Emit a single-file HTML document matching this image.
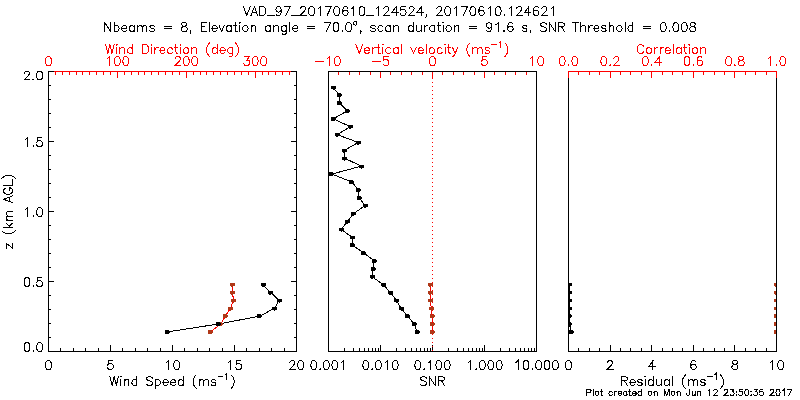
<!DOCTYPE html>
<html><head><meta charset="utf-8"><title>VAD</title>
<style>html,body{margin:0;padding:0;background:#fff;font-family:"Liberation Sans",sans-serif;}svg{display:block}</style>
</head><body>
<svg width="800" height="400" viewBox="0 0 800 400" shape-rendering="crispEdges" stroke-linecap="square" stroke-linejoin="miter">
<defs><clipPath id="c3"><rect x="568" y="71" width="209" height="281"/></clipPath></defs>
<rect x="0" y="0" width="800" height="400" fill="#ffffff"/>
<path transform="translate(400.00 15.50)" d="M-156.56 -8.83 L-153.20 0.00M-149.84 -8.83 L-153.20 0.00M-145.63 -8.83 L-149.00 0.00M-145.63 -8.83 L-142.27 0.00M-147.74 -2.94 L-143.53 -2.94M-140.17 -8.83 L-140.17 0.00M-140.17 -8.83 L-137.23 -8.83 L-135.97 -8.41 L-135.13 -7.57 L-134.71 -6.72 L-134.29 -5.46 L-134.29 -3.36 L-134.71 -2.10 L-135.13 -1.26 L-135.97 -0.42 L-137.23 0.00 L-140.17 0.00M-132.60 0.00 L-125.88 0.00M-118.73 -5.88 L-119.16 -4.62 L-120.00 -3.78 L-121.26 -3.36 L-121.68 -3.36 L-122.94 -3.78 L-123.78 -4.62 L-124.20 -5.88 L-124.20 -6.30 L-123.78 -7.57 L-122.94 -8.41 L-121.68 -8.83 L-121.26 -8.83 L-120.00 -8.41 L-119.16 -7.57 L-118.73 -5.88 L-118.73 -3.78 L-119.16 -1.68 L-120.00 -0.42 L-121.26 0.00 L-122.10 0.00 L-123.36 -0.42 L-123.78 -1.26M-109.91 -8.83 L-114.11 0.00M-115.79 -8.83 L-109.91 -8.83M-108.23 0.00 L-101.50 0.00M-99.40 -6.72 L-99.40 -7.15 L-98.98 -7.99 L-98.56 -8.41 L-97.72 -8.83 L-96.04 -8.83 L-95.20 -8.41 L-94.78 -7.99 L-94.36 -7.15 L-94.36 -6.30 L-94.78 -5.46 L-95.62 -4.20 L-99.82 0.00 L-93.94 0.00M-88.89 -8.83 L-90.15 -8.41 L-90.99 -7.15 L-91.42 -5.04 L-91.42 -3.78 L-90.99 -1.68 L-90.15 -0.42 L-88.89 0.00 L-88.05 0.00 L-86.79 -0.42 L-85.95 -1.68 L-85.53 -3.78 L-85.53 -5.04 L-85.95 -7.15 L-86.79 -8.41 L-88.05 -8.83 L-88.89 -8.83M-81.75 -7.15 L-80.91 -7.57 L-79.65 -8.83 L-79.65 0.00M-68.72 -8.83 L-72.92 0.00M-74.60 -8.83 L-68.72 -8.83M-63.68 -8.83 L-64.94 -8.41 L-65.78 -7.15 L-66.20 -5.04 L-66.20 -3.78 L-65.78 -1.68 L-64.94 -0.42 L-63.68 0.00 L-62.83 0.00 L-61.57 -0.42 L-60.73 -1.68 L-60.31 -3.78 L-60.31 -5.04 L-60.73 -7.15 L-61.57 -8.41 L-62.83 -8.83 L-63.68 -8.83M-52.33 -7.57 L-52.75 -8.41 L-54.01 -8.83 L-54.85 -8.83 L-56.11 -8.41 L-56.95 -7.15 L-57.37 -5.04 L-57.37 -2.94 L-56.95 -1.26 L-56.11 -0.42 L-54.85 0.00 L-54.43 0.00 L-53.17 -0.42 L-52.33 -1.26 L-51.91 -2.52 L-51.91 -2.94 L-52.33 -4.20 L-53.17 -5.04 L-54.43 -5.46 L-54.85 -5.46 L-56.11 -5.04 L-56.95 -4.20 L-57.37 -2.94M-48.12 -7.15 L-47.28 -7.57 L-46.02 -8.83 L-46.02 0.00M-38.46 -8.83 L-39.72 -8.41 L-40.56 -7.15 L-40.98 -5.04 L-40.98 -3.78 L-40.56 -1.68 L-39.72 -0.42 L-38.46 0.00 L-37.62 0.00 L-36.36 -0.42 L-35.52 -1.68 L-35.10 -3.78 L-35.10 -5.04 L-35.52 -7.15 L-36.36 -8.41 L-37.62 -8.83 L-38.46 -8.83M-33.41 0.00 L-26.69 0.00M-23.75 -7.15 L-22.91 -7.57 L-21.65 -8.83 L-21.65 0.00M-16.18 -6.72 L-16.18 -7.15 L-15.76 -7.99 L-15.34 -8.41 L-14.50 -8.83 L-12.82 -8.83 L-11.98 -8.41 L-11.56 -7.99 L-11.14 -7.15 L-11.14 -6.30 L-11.56 -5.46 L-12.40 -4.20 L-16.60 0.00 L-10.72 0.00M-3.99 -8.83 L-8.20 -2.94 L-1.89 -2.94M-3.99 -8.83 L-3.99 0.00M5.25 -8.83 L1.05 -8.83 L0.63 -5.04 L1.05 -5.46 L2.31 -5.88 L3.57 -5.88 L4.83 -5.46 L5.67 -4.62 L6.09 -3.36 L6.09 -2.52 L5.67 -1.26 L4.83 -0.42 L3.57 0.00 L2.31 0.00 L1.05 -0.42 L0.63 -0.84 L0.21 -1.68M9.04 -6.72 L9.04 -7.15 L9.46 -7.99 L9.88 -8.41 L10.72 -8.83 L12.40 -8.83 L13.24 -8.41 L13.66 -7.99 L14.08 -7.15 L14.08 -6.30 L13.66 -5.46 L12.82 -4.20 L8.62 0.00 L14.50 0.00M21.23 -8.83 L17.02 -2.94 L23.33 -2.94M21.23 -8.83 L21.23 0.00M26.69 -0.42 L26.27 0.00 L25.85 -0.42 L26.27 -0.84 L26.69 -0.42 L26.69 0.42 L26.27 1.26 L25.85 1.68M36.78 -6.72 L36.78 -7.15 L37.20 -7.99 L37.62 -8.41 L38.46 -8.83 L40.14 -8.83 L40.98 -8.41 L41.40 -7.99 L41.82 -7.15 L41.82 -6.30 L41.40 -5.46 L40.56 -4.20 L36.36 0.00 L42.24 0.00M47.28 -8.83 L46.02 -8.41 L45.18 -7.15 L44.76 -5.04 L44.76 -3.78 L45.18 -1.68 L46.02 -0.42 L47.28 0.00 L48.12 0.00 L49.39 -0.42 L50.23 -1.68 L50.65 -3.78 L50.65 -5.04 L50.23 -7.15 L49.39 -8.41 L48.12 -8.83 L47.28 -8.83M54.43 -7.15 L55.27 -7.57 L56.53 -8.83 L56.53 0.00M67.46 -8.83 L63.26 0.00M61.57 -8.83 L67.46 -8.83M72.50 -8.83 L71.24 -8.41 L70.40 -7.15 L69.98 -5.04 L69.98 -3.78 L70.40 -1.68 L71.24 -0.42 L72.50 0.00 L73.34 0.00 L74.60 -0.42 L75.44 -1.68 L75.86 -3.78 L75.86 -5.04 L75.44 -7.15 L74.60 -8.41 L73.34 -8.83 L72.50 -8.83M83.85 -7.57 L83.43 -8.41 L82.17 -8.83 L81.33 -8.83 L80.07 -8.41 L79.23 -7.15 L78.81 -5.04 L78.81 -2.94 L79.23 -1.26 L80.07 -0.42 L81.33 0.00 L81.75 0.00 L83.01 -0.42 L83.85 -1.26 L84.27 -2.52 L84.27 -2.94 L83.85 -4.20 L83.01 -5.04 L81.75 -5.46 L81.33 -5.46 L80.07 -5.04 L79.23 -4.20 L78.81 -2.94M88.05 -7.15 L88.89 -7.57 L90.15 -8.83 L90.15 0.00M97.72 -8.83 L96.46 -8.41 L95.62 -7.15 L95.20 -5.04 L95.20 -3.78 L95.62 -1.68 L96.46 -0.42 L97.72 0.00 L98.56 0.00 L99.82 -0.42 L100.66 -1.68 L101.08 -3.78 L101.08 -5.04 L100.66 -7.15 L99.82 -8.41 L98.56 -8.83 L97.72 -8.83M104.44 -0.84 L104.02 -0.42 L104.44 0.00 L104.86 -0.42 L104.44 -0.84M109.07 -7.15 L109.91 -7.57 L111.17 -8.83 L111.17 0.00M116.63 -6.72 L116.63 -7.15 L117.05 -7.99 L117.47 -8.41 L118.31 -8.83 L120.00 -8.83 L120.84 -8.41 L121.26 -7.99 L121.68 -7.15 L121.68 -6.30 L121.26 -5.46 L120.42 -4.20 L116.21 0.00 L122.10 0.00M128.82 -8.83 L124.62 -2.94 L130.92 -2.94M128.82 -8.83 L128.82 0.00M138.49 -7.57 L138.07 -8.41 L136.81 -8.83 L135.97 -8.83 L134.71 -8.41 L133.87 -7.15 L133.45 -5.04 L133.45 -2.94 L133.87 -1.26 L134.71 -0.42 L135.97 0.00 L136.39 0.00 L137.65 -0.42 L138.49 -1.26 L138.91 -2.52 L138.91 -2.94 L138.49 -4.20 L137.65 -5.04 L136.39 -5.46 L135.97 -5.46 L134.71 -5.04 L133.87 -4.20 L133.45 -2.94M141.85 -6.72 L141.85 -7.15 L142.27 -7.99 L142.69 -8.41 L143.53 -8.83 L145.21 -8.83 L146.05 -8.41 L146.47 -7.99 L146.89 -7.15 L146.89 -6.30 L146.47 -5.46 L145.63 -4.20 L141.43 0.00 L147.32 0.00M151.10 -7.15 L151.94 -7.57 L153.20 -8.83 L153.20 0.00" stroke="#000000" stroke-width="1" fill="none"/>
<path transform="translate(400.00 31.50)" d="M-295.19 -8.83 L-295.19 0.00M-295.19 -8.83 L-289.31 0.00M-289.31 -8.83 L-289.31 0.00M-285.95 -8.83 L-285.95 0.00M-285.95 -4.62 L-285.11 -5.46 L-284.27 -5.88 L-283.01 -5.88 L-282.16 -5.46 L-281.32 -4.62 L-280.90 -3.36 L-280.90 -2.52 L-281.32 -1.26 L-282.16 -0.42 L-283.01 0.00 L-284.27 0.00 L-285.11 -0.42 L-285.95 -1.26M-278.38 -3.36 L-273.34 -3.36 L-273.34 -4.20 L-273.76 -5.04 L-274.18 -5.46 L-275.02 -5.88 L-276.28 -5.88 L-277.12 -5.46 L-277.96 -4.62 L-278.38 -3.36 L-278.38 -2.52 L-277.96 -1.26 L-277.12 -0.42 L-276.28 0.00 L-275.02 0.00 L-274.18 -0.42 L-273.34 -1.26M-265.77 -5.88 L-265.77 0.00M-265.77 -4.62 L-266.61 -5.46 L-267.45 -5.88 L-268.72 -5.88 L-269.56 -5.46 L-270.40 -4.62 L-270.82 -3.36 L-270.82 -2.52 L-270.40 -1.26 L-269.56 -0.42 L-268.72 0.00 L-267.45 0.00 L-266.61 -0.42 L-265.77 -1.26M-262.41 -5.88 L-262.41 0.00M-262.41 -4.20 L-261.15 -5.46 L-260.31 -5.88 L-259.05 -5.88 L-258.21 -5.46 L-257.79 -4.20 L-257.79 0.00M-257.79 -4.20 L-256.53 -5.46 L-255.69 -5.88 L-254.43 -5.88 L-253.58 -5.46 L-253.16 -4.20 L-253.16 0.00M-245.60 -4.62 L-246.02 -5.46 L-247.28 -5.88 L-248.54 -5.88 L-249.80 -5.46 L-250.22 -4.62 L-249.80 -3.78 L-248.96 -3.36 L-246.86 -2.94 L-246.02 -2.52 L-245.60 -1.68 L-245.60 -1.26 L-246.02 -0.42 L-247.28 0.00 L-248.54 0.00 L-249.80 -0.42 L-250.22 -1.26M-235.93 -5.04 L-228.37 -5.04M-235.93 -2.52 L-228.37 -2.52M-216.60 -8.83 L-217.86 -8.41 L-218.28 -7.57 L-218.28 -6.72 L-217.86 -5.88 L-217.02 -5.46 L-215.34 -5.04 L-214.08 -4.62 L-213.24 -3.78 L-212.82 -2.94 L-212.82 -1.68 L-213.24 -0.84 L-213.66 -0.42 L-214.92 0.00 L-216.60 0.00 L-217.86 -0.42 L-218.28 -0.84 L-218.70 -1.68 L-218.70 -2.94 L-218.28 -3.78 L-217.44 -4.62 L-216.18 -5.04 L-214.50 -5.46 L-213.66 -5.88 L-213.24 -6.72 L-213.24 -7.57 L-213.66 -8.41 L-214.92 -8.83 L-216.60 -8.83M-209.03 -0.42 L-209.45 0.00 L-209.87 -0.42 L-209.45 -0.84 L-209.03 -0.42 L-209.03 0.42 L-209.45 1.26 L-209.87 1.68M-198.95 -8.83 L-198.95 0.00M-198.95 -8.83 L-193.48 -8.83M-198.95 -4.62 L-195.58 -4.62M-198.95 0.00 L-193.48 0.00M-190.96 -8.83 L-190.96 0.00M-188.02 -3.36 L-182.97 -3.36 L-182.97 -4.20 L-183.39 -5.04 L-183.81 -5.46 L-184.66 -5.88 L-185.92 -5.88 L-186.76 -5.46 L-187.60 -4.62 L-188.02 -3.36 L-188.02 -2.52 L-187.60 -1.26 L-186.76 -0.42 L-185.92 0.00 L-184.66 0.00 L-183.81 -0.42 L-182.97 -1.26M-180.87 -5.88 L-178.35 0.00M-175.83 -5.88 L-178.35 0.00M-168.68 -5.88 L-168.68 0.00M-168.68 -4.62 L-169.52 -5.46 L-170.37 -5.88 L-171.63 -5.88 L-172.47 -5.46 L-173.31 -4.62 L-173.73 -3.36 L-173.73 -2.52 L-173.31 -1.26 L-172.47 -0.42 L-171.63 0.00 L-170.37 0.00 L-169.52 -0.42 L-168.68 -1.26M-164.90 -8.83 L-164.90 -1.68 L-164.48 -0.42 L-163.64 0.00 L-162.80 0.00M-166.16 -5.88 L-163.22 -5.88M-160.70 -8.83 L-160.28 -8.41 L-159.86 -8.83 L-160.28 -9.25 L-160.70 -8.83M-160.28 -5.88 L-160.28 0.00M-155.23 -5.88 L-156.07 -5.46 L-156.92 -4.62 L-157.34 -3.36 L-157.34 -2.52 L-156.92 -1.26 L-156.07 -0.42 L-155.23 0.00 L-153.97 0.00 L-153.13 -0.42 L-152.29 -1.26 L-151.87 -2.52 L-151.87 -3.36 L-152.29 -4.62 L-153.13 -5.46 L-153.97 -5.88 L-155.23 -5.88M-148.93 -5.88 L-148.93 0.00M-148.93 -4.20 L-147.67 -5.46 L-146.83 -5.88 L-145.57 -5.88 L-144.73 -5.46 L-144.31 -4.20 L-144.31 0.00M-129.60 -5.88 L-129.60 0.00M-129.60 -4.62 L-130.44 -5.46 L-131.28 -5.88 L-132.54 -5.88 L-133.38 -5.46 L-134.22 -4.62 L-134.64 -3.36 L-134.64 -2.52 L-134.22 -1.26 L-133.38 -0.42 L-132.54 0.00 L-131.28 0.00 L-130.44 -0.42 L-129.60 -1.26M-126.23 -5.88 L-126.23 0.00M-126.23 -4.20 L-124.97 -5.46 L-124.13 -5.88 L-122.87 -5.88 L-122.03 -5.46 L-121.61 -4.20 L-121.61 0.00M-113.62 -5.88 L-113.62 0.84 L-114.04 2.10 L-114.47 2.52 L-115.31 2.94 L-116.57 2.94 L-117.41 2.52M-113.62 -4.62 L-114.47 -5.46 L-115.31 -5.88 L-116.57 -5.88 L-117.41 -5.46 L-118.25 -4.62 L-118.67 -3.36 L-118.67 -2.52 L-118.25 -1.26 L-117.41 -0.42 L-116.57 0.00 L-115.31 0.00 L-114.47 -0.42 L-113.62 -1.26M-110.26 -8.83 L-110.26 0.00M-107.32 -3.36 L-102.28 -3.36 L-102.28 -4.20 L-102.70 -5.04 L-103.12 -5.46 L-103.96 -5.88 L-105.22 -5.88 L-106.06 -5.46 L-106.90 -4.62 L-107.32 -3.36 L-107.32 -2.52 L-106.90 -1.26 L-106.06 -0.42 L-105.22 0.00 L-103.96 0.00 L-103.12 -0.42 L-102.28 -1.26M-92.61 -5.04 L-85.04 -5.04M-92.61 -2.52 L-85.04 -2.52M-69.49 -8.83 L-73.70 0.00M-75.38 -8.83 L-69.49 -8.83M-64.45 -8.83 L-65.71 -8.41 L-66.55 -7.15 L-66.97 -5.04 L-66.97 -3.78 L-66.55 -1.68 L-65.71 -0.42 L-64.45 0.00 L-63.61 0.00 L-62.35 -0.42 L-61.51 -1.68 L-61.09 -3.78 L-61.09 -5.04 L-61.51 -7.15 L-62.35 -8.41 L-63.61 -8.83 L-64.45 -8.83M-57.72 -0.84 L-58.15 -0.42 L-57.72 0.00 L-57.30 -0.42 L-57.72 -0.84M-51.84 -8.83 L-53.10 -8.41 L-53.94 -7.15 L-54.36 -5.04 L-54.36 -3.78 L-53.94 -1.68 L-53.10 -0.42 L-51.84 0.00 L-51.00 0.00 L-49.74 -0.42 L-48.90 -1.68 L-48.48 -3.78 L-48.48 -5.04 L-48.90 -7.15 L-49.74 -8.41 L-51.00 -8.83 L-51.84 -8.83M-45.13 -10.08 L-45.65 -9.82 L-46.17 -9.30 L-46.44 -8.52 L-46.44 -7.99 L-46.17 -7.21 L-45.65 -6.69 L-45.13 -6.43 L-44.35 -6.43 L-43.83 -6.69 L-43.31 -7.21 L-43.05 -7.99 L-43.05 -8.52 L-43.31 -9.30 L-43.83 -9.82 L-44.35 -10.08 L-45.13 -10.08M-38.94 -0.42 L-39.36 0.00 L-39.78 -0.42 L-39.36 -0.84 L-38.94 -0.42 L-38.94 0.42 L-39.36 1.26 L-39.78 1.68M-24.65 -4.62 L-25.07 -5.46 L-26.34 -5.88 L-27.60 -5.88 L-28.86 -5.46 L-29.28 -4.62 L-28.86 -3.78 L-28.02 -3.36 L-25.91 -2.94 L-25.07 -2.52 L-24.65 -1.68 L-24.65 -1.26 L-25.07 -0.42 L-26.34 0.00 L-27.60 0.00 L-28.86 -0.42 L-29.28 -1.26M-17.09 -4.62 L-17.93 -5.46 L-18.77 -5.88 L-20.03 -5.88 L-20.87 -5.46 L-21.71 -4.62 L-22.13 -3.36 L-22.13 -2.52 L-21.71 -1.26 L-20.87 -0.42 L-20.03 0.00 L-18.77 0.00 L-17.93 -0.42 L-17.09 -1.26M-9.52 -5.88 L-9.52 0.00M-9.52 -4.62 L-10.36 -5.46 L-11.20 -5.88 L-12.47 -5.88 L-13.31 -5.46 L-14.15 -4.62 L-14.57 -3.36 L-14.57 -2.52 L-14.15 -1.26 L-13.31 -0.42 L-12.47 0.00 L-11.20 0.00 L-10.36 -0.42 L-9.52 -1.26M-6.16 -5.88 L-6.16 0.00M-6.16 -4.20 L-4.90 -5.46 L-4.06 -5.88 L-2.80 -5.88 L-1.96 -5.46 L-1.54 -4.20 L-1.54 0.00M13.17 -8.83 L13.17 0.00M13.17 -4.62 L12.33 -5.46 L11.49 -5.88 L10.23 -5.88 L9.39 -5.46 L8.55 -4.62 L8.13 -3.36 L8.13 -2.52 L8.55 -1.26 L9.39 -0.42 L10.23 0.00 L11.49 0.00 L12.33 -0.42 L13.17 -1.26M16.54 -5.88 L16.54 -1.68 L16.96 -0.42 L17.80 0.00 L19.06 0.00 L19.90 -0.42 L21.16 -1.68M21.16 -5.88 L21.16 0.00M24.52 -5.88 L24.52 0.00M24.52 -3.36 L24.94 -4.62 L25.78 -5.46 L26.62 -5.88 L27.88 -5.88M34.61 -5.88 L34.61 0.00M34.61 -4.62 L33.77 -5.46 L32.93 -5.88 L31.67 -5.88 L30.83 -5.46 L29.98 -4.62 L29.56 -3.36 L29.56 -2.52 L29.98 -1.26 L30.83 -0.42 L31.67 0.00 L32.93 0.00 L33.77 -0.42 L34.61 -1.26M38.39 -8.83 L38.39 -1.68 L38.81 -0.42 L39.65 0.00 L40.49 0.00M37.13 -5.88 L40.07 -5.88M42.59 -8.83 L43.01 -8.41 L43.43 -8.83 L43.01 -9.25 L42.59 -8.83M43.01 -5.88 L43.01 0.00M48.06 -5.88 L47.22 -5.46 L46.38 -4.62 L45.96 -3.36 L45.96 -2.52 L46.38 -1.26 L47.22 -0.42 L48.06 0.00 L49.32 0.00 L50.16 -0.42 L51.00 -1.26 L51.42 -2.52 L51.42 -3.36 L51.00 -4.62 L50.16 -5.46 L49.32 -5.88 L48.06 -5.88M54.36 -5.88 L54.36 0.00M54.36 -4.20 L55.62 -5.46 L56.46 -5.88 L57.72 -5.88 L58.57 -5.46 L58.99 -4.20 L58.99 0.00M69.07 -5.04 L76.64 -5.04M69.07 -2.52 L76.64 -2.52M91.77 -5.88 L91.35 -4.62 L90.51 -3.78 L89.25 -3.36 L88.83 -3.36 L87.57 -3.78 L86.73 -4.62 L86.31 -5.88 L86.31 -6.30 L86.73 -7.57 L87.57 -8.41 L88.83 -8.83 L89.25 -8.83 L90.51 -8.41 L91.35 -7.57 L91.77 -5.88 L91.77 -3.78 L91.35 -1.68 L90.51 -0.42 L89.25 0.00 L88.41 0.00 L87.15 -0.42 L86.73 -1.26M95.97 -7.15 L96.81 -7.57 L98.07 -8.83 L98.07 0.00M103.96 -0.84 L103.54 -0.42 L103.96 0.00 L104.38 -0.42 L103.96 -0.84M112.78 -7.57 L112.36 -8.41 L111.10 -8.83 L110.26 -8.83 L109.00 -8.41 L108.16 -7.15 L107.74 -5.04 L107.74 -2.94 L108.16 -1.26 L109.00 -0.42 L110.26 0.00 L110.68 0.00 L111.94 -0.42 L112.78 -1.26 L113.20 -2.52 L113.20 -2.94 L112.78 -4.20 L111.94 -5.04 L110.68 -5.46 L110.26 -5.46 L109.00 -5.04 L108.16 -4.20 L107.74 -2.94M127.07 -4.62 L126.65 -5.46 L125.39 -5.88 L124.13 -5.88 L122.87 -5.46 L122.45 -4.62 L122.87 -3.78 L123.71 -3.36 L125.81 -2.94 L126.65 -2.52 L127.07 -1.68 L127.07 -1.26 L126.65 -0.42 L125.39 0.00 L124.13 0.00 L122.87 -0.42 L122.45 -1.26M130.86 -0.42 L130.44 0.00 L130.02 -0.42 L130.44 -0.84 L130.86 -0.42 L130.86 0.42 L130.44 1.26 L130.02 1.68M146.41 -7.57 L145.57 -8.41 L144.31 -8.83 L142.63 -8.83 L141.36 -8.41 L140.52 -7.57 L140.52 -6.72 L140.94 -5.88 L141.36 -5.46 L142.21 -5.04 L144.73 -4.20 L145.57 -3.78 L145.99 -3.36 L146.41 -2.52 L146.41 -1.26 L145.57 -0.42 L144.31 0.00 L142.63 0.00 L141.36 -0.42 L140.52 -1.26M149.35 -8.83 L149.35 0.00M149.35 -8.83 L155.23 0.00M155.23 -8.83 L155.23 0.00M158.60 -8.83 L158.60 0.00M158.60 -8.83 L162.38 -8.83 L163.64 -8.41 L164.06 -7.99 L164.48 -7.15 L164.48 -6.30 L164.06 -5.46 L163.64 -5.04 L162.38 -4.62 L158.60 -4.62M161.54 -4.62 L164.48 0.00M175.83 -8.83 L175.83 0.00M172.89 -8.83 L178.77 -8.83M180.87 -8.83 L180.87 0.00M180.87 -4.20 L182.13 -5.46 L182.97 -5.88 L184.24 -5.88 L185.08 -5.46 L185.50 -4.20 L185.50 0.00M188.86 -5.88 L188.86 0.00M188.86 -3.36 L189.28 -4.62 L190.12 -5.46 L190.96 -5.88 L192.22 -5.88M193.90 -3.36 L198.95 -3.36 L198.95 -4.20 L198.53 -5.04 L198.10 -5.46 L197.26 -5.88 L196.00 -5.88 L195.16 -5.46 L194.32 -4.62 L193.90 -3.36 L193.90 -2.52 L194.32 -1.26 L195.16 -0.42 L196.00 0.00 L197.26 0.00 L198.10 -0.42 L198.95 -1.26M206.09 -4.62 L205.67 -5.46 L204.41 -5.88 L203.15 -5.88 L201.89 -5.46 L201.47 -4.62 L201.89 -3.78 L202.73 -3.36 L204.83 -2.94 L205.67 -2.52 L206.09 -1.68 L206.09 -1.26 L205.67 -0.42 L204.41 0.00 L203.15 0.00 L201.89 -0.42 L201.47 -1.26M209.03 -8.83 L209.03 0.00M209.03 -4.20 L210.29 -5.46 L211.13 -5.88 L212.40 -5.88 L213.24 -5.46 L213.66 -4.20 L213.66 0.00M218.70 -5.88 L217.86 -5.46 L217.02 -4.62 L216.60 -3.36 L216.60 -2.52 L217.02 -1.26 L217.86 -0.42 L218.70 0.00 L219.96 0.00 L220.80 -0.42 L221.64 -1.26 L222.06 -2.52 L222.06 -3.36 L221.64 -4.62 L220.80 -5.46 L219.96 -5.88 L218.70 -5.88M225.00 -8.83 L225.00 0.00M232.99 -8.83 L232.99 0.00M232.99 -4.62 L232.15 -5.46 L231.31 -5.88 L230.05 -5.88 L229.21 -5.46 L228.37 -4.62 L227.95 -3.36 L227.95 -2.52 L228.37 -1.26 L229.21 -0.42 L230.05 0.00 L231.31 0.00 L232.15 -0.42 L232.99 -1.26M243.08 -5.04 L250.64 -5.04M243.08 -2.52 L250.64 -2.52M262.83 -8.83 L261.57 -8.41 L260.73 -7.15 L260.31 -5.04 L260.31 -3.78 L260.73 -1.68 L261.57 -0.42 L262.83 0.00 L263.67 0.00 L264.93 -0.42 L265.77 -1.68 L266.19 -3.78 L266.19 -5.04 L265.77 -7.15 L264.93 -8.41 L263.67 -8.83 L262.83 -8.83M269.56 -0.84 L269.14 -0.42 L269.56 0.00 L269.98 -0.42 L269.56 -0.84M275.44 -8.83 L274.18 -8.41 L273.34 -7.15 L272.92 -5.04 L272.92 -3.78 L273.34 -1.68 L274.18 -0.42 L275.44 0.00 L276.28 0.00 L277.54 -0.42 L278.38 -1.68 L278.80 -3.78 L278.80 -5.04 L278.38 -7.15 L277.54 -8.41 L276.28 -8.83 L275.44 -8.83M283.85 -8.83 L282.59 -8.41 L281.74 -7.15 L281.32 -5.04 L281.32 -3.78 L281.74 -1.68 L282.59 -0.42 L283.85 0.00 L284.69 0.00 L285.95 -0.42 L286.79 -1.68 L287.21 -3.78 L287.21 -5.04 L286.79 -7.15 L285.95 -8.41 L284.69 -8.83 L283.85 -8.83M291.83 -8.83 L290.57 -8.41 L290.15 -7.57 L290.15 -6.72 L290.57 -5.88 L291.41 -5.46 L293.09 -5.04 L294.35 -4.62 L295.19 -3.78 L295.61 -2.94 L295.61 -1.68 L295.19 -0.84 L294.77 -0.42 L293.51 0.00 L291.83 0.00 L290.57 -0.42 L290.15 -0.84 L289.73 -1.68 L289.73 -2.94 L290.15 -3.78 L290.99 -4.62 L292.25 -5.04 L293.93 -5.46 L294.77 -5.88 L295.19 -6.72 L295.19 -7.57 L294.77 -8.41 L293.51 -8.83 L291.83 -8.83" stroke="#000000" stroke-width="1" fill="none"/>
<rect x="48" y="71" width="249" height="1" fill="#ff0000"/>
<rect x="48" y="71" width="1" height="7" fill="#ff0000"/>
<rect x="55" y="71" width="1" height="4" fill="#ff0000"/>
<rect x="62" y="71" width="1" height="4" fill="#ff0000"/>
<rect x="69" y="71" width="1" height="4" fill="#ff0000"/>
<rect x="76" y="71" width="1" height="4" fill="#ff0000"/>
<rect x="82" y="71" width="1" height="4" fill="#ff0000"/>
<rect x="89" y="71" width="1" height="4" fill="#ff0000"/>
<rect x="96" y="71" width="1" height="4" fill="#ff0000"/>
<rect x="103" y="71" width="1" height="4" fill="#ff0000"/>
<rect x="110" y="71" width="1" height="4" fill="#ff0000"/>
<rect x="117" y="71" width="1" height="7" fill="#ff0000"/>
<rect x="124" y="71" width="1" height="4" fill="#ff0000"/>
<rect x="131" y="71" width="1" height="4" fill="#ff0000"/>
<rect x="138" y="71" width="1" height="4" fill="#ff0000"/>
<rect x="144" y="71" width="1" height="4" fill="#ff0000"/>
<rect x="151" y="71" width="1" height="4" fill="#ff0000"/>
<rect x="158" y="71" width="1" height="4" fill="#ff0000"/>
<rect x="165" y="71" width="1" height="4" fill="#ff0000"/>
<rect x="172" y="71" width="1" height="4" fill="#ff0000"/>
<rect x="179" y="71" width="1" height="4" fill="#ff0000"/>
<rect x="186" y="71" width="1" height="7" fill="#ff0000"/>
<rect x="193" y="71" width="1" height="4" fill="#ff0000"/>
<rect x="200" y="71" width="1" height="4" fill="#ff0000"/>
<rect x="206" y="71" width="1" height="4" fill="#ff0000"/>
<rect x="213" y="71" width="1" height="4" fill="#ff0000"/>
<rect x="220" y="71" width="1" height="4" fill="#ff0000"/>
<rect x="227" y="71" width="1" height="4" fill="#ff0000"/>
<rect x="234" y="71" width="1" height="4" fill="#ff0000"/>
<rect x="241" y="71" width="1" height="4" fill="#ff0000"/>
<rect x="248" y="71" width="1" height="4" fill="#ff0000"/>
<rect x="255" y="71" width="1" height="7" fill="#ff0000"/>
<rect x="262" y="71" width="1" height="4" fill="#ff0000"/>
<rect x="268" y="71" width="1" height="4" fill="#ff0000"/>
<rect x="275" y="71" width="1" height="4" fill="#ff0000"/>
<rect x="282" y="71" width="1" height="4" fill="#ff0000"/>
<rect x="289" y="71" width="1" height="4" fill="#ff0000"/>
<rect x="296" y="71" width="1" height="4" fill="#ff0000"/>
<path transform="translate(48.50 65.50)" d="M-0.42 -8.83 L-1.68 -8.41 L-2.52 -7.15 L-2.94 -5.04 L-2.94 -3.78 L-2.52 -1.68 L-1.68 -0.42 L-0.42 0.00 L0.42 0.00 L1.68 -0.42 L2.52 -1.68 L2.94 -3.78 L2.94 -5.04 L2.52 -7.15 L1.68 -8.41 L0.42 -8.83 L-0.42 -8.83" stroke="#ff0000" stroke-width="1" fill="none"/>
<path transform="translate(117.39 65.50)" d="M-10.09 -7.15 L-9.25 -7.57 L-7.99 -8.83 L-7.99 0.00M-0.42 -8.83 L-1.68 -8.41 L-2.52 -7.15 L-2.94 -5.04 L-2.94 -3.78 L-2.52 -1.68 L-1.68 -0.42 L-0.42 0.00 L0.42 0.00 L1.68 -0.42 L2.52 -1.68 L2.94 -3.78 L2.94 -5.04 L2.52 -7.15 L1.68 -8.41 L0.42 -8.83 L-0.42 -8.83M7.99 -8.83 L6.72 -8.41 L5.88 -7.15 L5.46 -5.04 L5.46 -3.78 L5.88 -1.68 L6.72 -0.42 L7.99 0.00 L8.83 0.00 L10.09 -0.42 L10.93 -1.68 L11.35 -3.78 L11.35 -5.04 L10.93 -7.15 L10.09 -8.41 L8.83 -8.83 L7.99 -8.83" stroke="#ff0000" stroke-width="1" fill="none"/>
<path transform="translate(186.28 65.50)" d="M-10.93 -6.72 L-10.93 -7.15 L-10.51 -7.99 L-10.09 -8.41 L-9.25 -8.83 L-7.57 -8.83 L-6.72 -8.41 L-6.30 -7.99 L-5.88 -7.15 L-5.88 -6.30 L-6.30 -5.46 L-7.15 -4.20 L-11.35 0.00 L-5.46 0.00M-0.42 -8.83 L-1.68 -8.41 L-2.52 -7.15 L-2.94 -5.04 L-2.94 -3.78 L-2.52 -1.68 L-1.68 -0.42 L-0.42 0.00 L0.42 0.00 L1.68 -0.42 L2.52 -1.68 L2.94 -3.78 L2.94 -5.04 L2.52 -7.15 L1.68 -8.41 L0.42 -8.83 L-0.42 -8.83M7.99 -8.83 L6.72 -8.41 L5.88 -7.15 L5.46 -5.04 L5.46 -3.78 L5.88 -1.68 L6.72 -0.42 L7.99 0.00 L8.83 0.00 L10.09 -0.42 L10.93 -1.68 L11.35 -3.78 L11.35 -5.04 L10.93 -7.15 L10.09 -8.41 L8.83 -8.83 L7.99 -8.83" stroke="#ff0000" stroke-width="1" fill="none"/>
<path transform="translate(255.17 65.50)" d="M-10.51 -8.83 L-5.88 -8.83 L-8.41 -5.46 L-7.15 -5.46 L-6.30 -5.04 L-5.88 -4.62 L-5.46 -3.36 L-5.46 -2.52 L-5.88 -1.26 L-6.72 -0.42 L-7.99 0.00 L-9.25 0.00 L-10.51 -0.42 L-10.93 -0.84 L-11.35 -1.68M-0.42 -8.83 L-1.68 -8.41 L-2.52 -7.15 L-2.94 -5.04 L-2.94 -3.78 L-2.52 -1.68 L-1.68 -0.42 L-0.42 0.00 L0.42 0.00 L1.68 -0.42 L2.52 -1.68 L2.94 -3.78 L2.94 -5.04 L2.52 -7.15 L1.68 -8.41 L0.42 -8.83 L-0.42 -8.83M7.99 -8.83 L6.72 -8.41 L5.88 -7.15 L5.46 -5.04 L5.46 -3.78 L5.88 -1.68 L6.72 -0.42 L7.99 0.00 L8.83 0.00 L10.09 -0.42 L10.93 -1.68 L11.35 -3.78 L11.35 -5.04 L10.93 -7.15 L10.09 -8.41 L8.83 -8.83 L7.99 -8.83" stroke="#ff0000" stroke-width="1" fill="none"/>
<path transform="translate(172.50 53.50)" d="M-66.83 -8.83 L-64.73 0.00M-62.62 -8.83 L-64.73 0.00M-62.62 -8.83 L-60.52 0.00M-58.42 -8.83 L-60.52 0.00M-56.32 -8.83 L-55.90 -8.41 L-55.48 -8.83 L-55.90 -9.25 L-56.32 -8.83M-55.90 -5.88 L-55.90 0.00M-52.54 -5.88 L-52.54 0.00M-52.54 -4.20 L-51.28 -5.46 L-50.44 -5.88 L-49.18 -5.88 L-48.33 -5.46 L-47.91 -4.20 L-47.91 0.00M-39.93 -8.83 L-39.93 0.00M-39.93 -4.62 L-40.77 -5.46 L-41.61 -5.88 L-42.87 -5.88 L-43.71 -5.46 L-44.55 -4.62 L-44.97 -3.36 L-44.97 -2.52 L-44.55 -1.26 L-43.71 -0.42 L-42.87 0.00 L-41.61 0.00 L-40.77 -0.42 L-39.93 -1.26M-29.84 -8.83 L-29.84 0.00M-29.84 -8.83 L-26.90 -8.83 L-25.64 -8.41 L-24.80 -7.57 L-24.38 -6.72 L-23.96 -5.46 L-23.96 -3.36 L-24.38 -2.10 L-24.80 -1.26 L-25.64 -0.42 L-26.90 0.00 L-29.84 0.00M-21.44 -8.83 L-21.01 -8.41 L-20.59 -8.83 L-21.01 -9.25 L-21.44 -8.83M-21.01 -5.88 L-21.01 0.00M-17.65 -5.88 L-17.65 0.00M-17.65 -3.36 L-17.23 -4.62 L-16.39 -5.46 L-15.55 -5.88 L-14.29 -5.88M-12.61 -3.36 L-7.57 -3.36 L-7.57 -4.20 L-7.99 -5.04 L-8.41 -5.46 L-9.25 -5.88 L-10.51 -5.88 L-11.35 -5.46 L-12.19 -4.62 L-12.61 -3.36 L-12.61 -2.52 L-12.19 -1.26 L-11.35 -0.42 L-10.51 0.00 L-9.25 0.00 L-8.41 -0.42 L-7.57 -1.26M0.00 -4.62 L-0.84 -5.46 L-1.68 -5.88 L-2.94 -5.88 L-3.78 -5.46 L-4.62 -4.62 L-5.04 -3.36 L-5.04 -2.52 L-4.62 -1.26 L-3.78 -0.42 L-2.94 0.00 L-1.68 0.00 L-0.84 -0.42 L0.00 -1.26M3.36 -8.83 L3.36 -1.68 L3.78 -0.42 L4.62 0.00 L5.46 0.00M2.10 -5.88 L5.04 -5.88M7.57 -8.83 L7.99 -8.41 L8.41 -8.83 L7.99 -9.25 L7.57 -8.83M7.99 -5.88 L7.99 0.00M13.03 -5.88 L12.19 -5.46 L11.35 -4.62 L10.93 -3.36 L10.93 -2.52 L11.35 -1.26 L12.19 -0.42 L13.03 0.00 L14.29 0.00 L15.13 -0.42 L15.97 -1.26 L16.39 -2.52 L16.39 -3.36 L15.97 -4.62 L15.13 -5.46 L14.29 -5.88 L13.03 -5.88M19.33 -5.88 L19.33 0.00M19.33 -4.20 L20.59 -5.46 L21.44 -5.88 L22.70 -5.88 L23.54 -5.46 L23.96 -4.20 L23.96 0.00M36.99 -10.51 L36.15 -9.67 L35.31 -8.41 L34.46 -6.72 L34.04 -4.62 L34.04 -2.94 L34.46 -0.84 L35.31 0.84 L36.15 2.10 L36.99 2.94M44.55 -8.83 L44.55 0.00M44.55 -4.62 L43.71 -5.46 L42.87 -5.88 L41.61 -5.88 L40.77 -5.46 L39.93 -4.62 L39.51 -3.36 L39.51 -2.52 L39.93 -1.26 L40.77 -0.42 L41.61 0.00 L42.87 0.00 L43.71 -0.42 L44.55 -1.26M47.49 -3.36 L52.54 -3.36 L52.54 -4.20 L52.12 -5.04 L51.70 -5.46 L50.86 -5.88 L49.60 -5.88 L48.75 -5.46 L47.91 -4.62 L47.49 -3.36 L47.49 -2.52 L47.91 -1.26 L48.75 -0.42 L49.60 0.00 L50.86 0.00 L51.70 -0.42 L52.54 -1.26M60.10 -5.88 L60.10 0.84 L59.68 2.10 L59.26 2.52 L58.42 2.94 L57.16 2.94 L56.32 2.52M60.10 -4.62 L59.26 -5.46 L58.42 -5.88 L57.16 -5.88 L56.32 -5.46 L55.48 -4.62 L55.06 -3.36 L55.06 -2.52 L55.48 -1.26 L56.32 -0.42 L57.16 0.00 L58.42 0.00 L59.26 -0.42 L60.10 -1.26M63.04 -10.51 L63.89 -9.67 L64.73 -8.41 L65.57 -6.72 L65.99 -4.62 L65.99 -2.94 L65.57 -0.84 L64.73 0.84 L63.89 2.10 L63.04 2.94" stroke="#ff0000" stroke-width="1" fill="none"/>
<polyline points="167.30,331.94 218.20,324.04 259.80,316.15 274.50,308.26 279.20,300.36 270.70,292.47 262.90,284.58" fill="none" stroke="#000000" stroke-width="1"/>
<polyline points="210.30,331.94 220.70,324.04 225.40,316.15 230.50,308.26 233.60,300.36 232.40,292.47 232.40,284.58" fill="none" stroke="#ff0000" stroke-width="1"/>
<path d="M208 330h4v1h1v2h-1v1h-4z" fill="#b03818"/>
<path d="M218 322h4v1h1v2h-1v1h-4z" fill="#b03818"/>
<path d="M223 314h4v1h1v2h-1v1h-4z" fill="#b03818"/>
<path d="M228 307h5v3h-2v1h-1v-1h-2z" fill="#b03818"/>
<path d="M231 299h5v3h-2v1h-1v-1h-2z" fill="#b03818"/>
<path d="M230 291h5v3h-2v1h-2v-1h-1z" fill="#b03818"/>
<path d="M230 283h5v3h-2v1h-2v-1h-1z" fill="#b03818"/>
<path d="M165 330h4v1h1v2h-1v1h-4z" fill="#000000"/>
<path d="M216 322h4v1h1v2h-1v1h-4z" fill="#000000"/>
<path d="M257 314h4v1h1v2h-1v1h-4z" fill="#000000"/>
<path d="M272 307h5v3h-2v1h-1v-1h-2z" fill="#000000"/>
<path d="M277 299h5v3h-2v1h-1v-1h-2z" fill="#000000"/>
<path d="M268 291h5v3h-2v1h-2v-1h-1z" fill="#000000"/>
<path d="M261 283h5v3h-2v1h-2v-1h-1z" fill="#000000"/>
<rect x="48" y="71" width="1" height="281" fill="#000000"/>
<rect x="296" y="71" width="1" height="281" fill="#000000"/>
<rect x="48" y="351" width="249" height="1" fill="#000000"/>
<rect x="48" y="351" width="6" height="1" fill="#000000"/>
<rect x="291" y="351" width="6" height="1" fill="#000000"/>
<rect x="48" y="337" width="3" height="1" fill="#000000"/>
<rect x="294" y="337" width="3" height="1" fill="#000000"/>
<rect x="48" y="323" width="3" height="1" fill="#000000"/>
<rect x="294" y="323" width="3" height="1" fill="#000000"/>
<rect x="48" y="309" width="3" height="1" fill="#000000"/>
<rect x="294" y="309" width="3" height="1" fill="#000000"/>
<rect x="48" y="295" width="3" height="1" fill="#000000"/>
<rect x="294" y="295" width="3" height="1" fill="#000000"/>
<rect x="48" y="281" width="6" height="1" fill="#000000"/>
<rect x="291" y="281" width="6" height="1" fill="#000000"/>
<rect x="48" y="267" width="3" height="1" fill="#000000"/>
<rect x="294" y="267" width="3" height="1" fill="#000000"/>
<rect x="48" y="253" width="3" height="1" fill="#000000"/>
<rect x="294" y="253" width="3" height="1" fill="#000000"/>
<rect x="48" y="239" width="3" height="1" fill="#000000"/>
<rect x="294" y="239" width="3" height="1" fill="#000000"/>
<rect x="48" y="225" width="3" height="1" fill="#000000"/>
<rect x="294" y="225" width="3" height="1" fill="#000000"/>
<rect x="48" y="211" width="6" height="1" fill="#000000"/>
<rect x="291" y="211" width="6" height="1" fill="#000000"/>
<rect x="48" y="197" width="3" height="1" fill="#000000"/>
<rect x="294" y="197" width="3" height="1" fill="#000000"/>
<rect x="48" y="183" width="3" height="1" fill="#000000"/>
<rect x="294" y="183" width="3" height="1" fill="#000000"/>
<rect x="48" y="169" width="3" height="1" fill="#000000"/>
<rect x="294" y="169" width="3" height="1" fill="#000000"/>
<rect x="48" y="155" width="3" height="1" fill="#000000"/>
<rect x="294" y="155" width="3" height="1" fill="#000000"/>
<rect x="48" y="141" width="6" height="1" fill="#000000"/>
<rect x="291" y="141" width="6" height="1" fill="#000000"/>
<rect x="48" y="127" width="3" height="1" fill="#000000"/>
<rect x="294" y="127" width="3" height="1" fill="#000000"/>
<rect x="48" y="113" width="3" height="1" fill="#000000"/>
<rect x="294" y="113" width="3" height="1" fill="#000000"/>
<rect x="48" y="99" width="3" height="1" fill="#000000"/>
<rect x="294" y="99" width="3" height="1" fill="#000000"/>
<rect x="48" y="85" width="3" height="1" fill="#000000"/>
<rect x="294" y="85" width="3" height="1" fill="#000000"/>
<rect x="48" y="71" width="6" height="1" fill="#000000"/>
<rect x="291" y="71" width="6" height="1" fill="#000000"/>
<rect x="48" y="345" width="1" height="7" fill="#000000"/>
<rect x="60" y="348" width="1" height="4" fill="#000000"/>
<rect x="73" y="348" width="1" height="4" fill="#000000"/>
<rect x="85" y="348" width="1" height="4" fill="#000000"/>
<rect x="98" y="348" width="1" height="4" fill="#000000"/>
<rect x="110" y="345" width="1" height="7" fill="#000000"/>
<rect x="122" y="348" width="1" height="4" fill="#000000"/>
<rect x="135" y="348" width="1" height="4" fill="#000000"/>
<rect x="147" y="348" width="1" height="4" fill="#000000"/>
<rect x="160" y="348" width="1" height="4" fill="#000000"/>
<rect x="172" y="345" width="1" height="7" fill="#000000"/>
<rect x="184" y="348" width="1" height="4" fill="#000000"/>
<rect x="197" y="348" width="1" height="4" fill="#000000"/>
<rect x="209" y="348" width="1" height="4" fill="#000000"/>
<rect x="222" y="348" width="1" height="4" fill="#000000"/>
<rect x="234" y="345" width="1" height="7" fill="#000000"/>
<rect x="246" y="348" width="1" height="4" fill="#000000"/>
<rect x="259" y="348" width="1" height="4" fill="#000000"/>
<rect x="271" y="348" width="1" height="4" fill="#000000"/>
<rect x="284" y="348" width="1" height="4" fill="#000000"/>
<rect x="296" y="345" width="1" height="7" fill="#000000"/>
<path transform="translate(48.50 369.50)" d="M-0.42 -8.83 L-1.68 -8.41 L-2.52 -7.15 L-2.94 -5.04 L-2.94 -3.78 L-2.52 -1.68 L-1.68 -0.42 L-0.42 0.00 L0.42 0.00 L1.68 -0.42 L2.52 -1.68 L2.94 -3.78 L2.94 -5.04 L2.52 -7.15 L1.68 -8.41 L0.42 -8.83 L-0.42 -8.83" stroke="#000000" stroke-width="1" fill="none"/>
<path transform="translate(110.50 369.50)" d="M2.10 -8.83 L-2.10 -8.83 L-2.52 -5.04 L-2.10 -5.46 L-0.84 -5.88 L0.42 -5.88 L1.68 -5.46 L2.52 -4.62 L2.94 -3.36 L2.94 -2.52 L2.52 -1.26 L1.68 -0.42 L0.42 0.00 L-0.84 0.00 L-2.10 -0.42 L-2.52 -0.84 L-2.94 -1.68" stroke="#000000" stroke-width="1" fill="none"/>
<path transform="translate(172.50 369.50)" d="M-5.88 -7.15 L-5.04 -7.57 L-3.78 -8.83 L-3.78 0.00M3.78 -8.83 L2.52 -8.41 L1.68 -7.15 L1.26 -5.04 L1.26 -3.78 L1.68 -1.68 L2.52 -0.42 L3.78 0.00 L4.62 0.00 L5.88 -0.42 L6.72 -1.68 L7.15 -3.78 L7.15 -5.04 L6.72 -7.15 L5.88 -8.41 L4.62 -8.83 L3.78 -8.83" stroke="#000000" stroke-width="1" fill="none"/>
<path transform="translate(234.50 369.50)" d="M-5.88 -7.15 L-5.04 -7.57 L-3.78 -8.83 L-3.78 0.00M6.30 -8.83 L2.10 -8.83 L1.68 -5.04 L2.10 -5.46 L3.36 -5.88 L4.62 -5.88 L5.88 -5.46 L6.72 -4.62 L7.15 -3.36 L7.15 -2.52 L6.72 -1.26 L5.88 -0.42 L4.62 0.00 L3.36 0.00 L2.10 -0.42 L1.68 -0.84 L1.26 -1.68" stroke="#000000" stroke-width="1" fill="none"/>
<path transform="translate(296.50 369.50)" d="M-6.72 -6.72 L-6.72 -7.15 L-6.30 -7.99 L-5.88 -8.41 L-5.04 -8.83 L-3.36 -8.83 L-2.52 -8.41 L-2.10 -7.99 L-1.68 -7.15 L-1.68 -6.30 L-2.10 -5.46 L-2.94 -4.20 L-7.15 0.00 L-1.26 0.00M3.78 -8.83 L2.52 -8.41 L1.68 -7.15 L1.26 -5.04 L1.26 -3.78 L1.68 -1.68 L2.52 -0.42 L3.78 0.00 L4.62 0.00 L5.88 -0.42 L6.72 -1.68 L7.15 -3.78 L7.15 -5.04 L6.72 -7.15 L5.88 -8.41 L4.62 -8.83 L3.78 -8.83" stroke="#000000" stroke-width="1" fill="none"/>
<path transform="translate(172.50 385.50)" d="M-62.50 -8.83 L-60.40 0.00M-58.30 -8.83 L-60.40 0.00M-58.30 -8.83 L-56.20 0.00M-54.10 -8.83 L-56.20 0.00M-52.00 -8.83 L-51.58 -8.41 L-51.16 -8.83 L-51.58 -9.25 L-52.00 -8.83M-51.58 -5.88 L-51.58 0.00M-48.21 -5.88 L-48.21 0.00M-48.21 -4.20 L-46.95 -5.46 L-46.11 -5.88 L-44.85 -5.88 L-44.01 -5.46 L-43.59 -4.20 L-43.59 0.00M-35.60 -8.83 L-35.60 0.00M-35.60 -4.62 L-36.44 -5.46 L-37.29 -5.88 L-38.55 -5.88 L-39.39 -5.46 L-40.23 -4.62 L-40.65 -3.36 L-40.65 -2.52 L-40.23 -1.26 L-39.39 -0.42 L-38.55 0.00 L-37.29 0.00 L-36.44 -0.42 L-35.60 -1.26M-20.05 -7.57 L-20.89 -8.41 L-22.15 -8.83 L-23.84 -8.83 L-25.10 -8.41 L-25.94 -7.57 L-25.94 -6.72 L-25.52 -5.88 L-25.10 -5.46 L-24.26 -5.04 L-21.73 -4.20 L-20.89 -3.78 L-20.47 -3.36 L-20.05 -2.52 L-20.05 -1.26 L-20.89 -0.42 L-22.15 0.00 L-23.84 0.00 L-25.10 -0.42 L-25.94 -1.26M-17.11 -5.88 L-17.11 2.94M-17.11 -4.62 L-16.27 -5.46 L-15.43 -5.88 L-14.17 -5.88 L-13.33 -5.46 L-12.49 -4.62 L-12.07 -3.36 L-12.07 -2.52 L-12.49 -1.26 L-13.33 -0.42 L-14.17 0.00 L-15.43 0.00 L-16.27 -0.42 L-17.11 -1.26M-9.55 -3.36 L-4.50 -3.36 L-4.50 -4.20 L-4.92 -5.04 L-5.34 -5.46 L-6.18 -5.88 L-7.44 -5.88 L-8.28 -5.46 L-9.13 -4.62 L-9.55 -3.36 L-9.55 -2.52 L-9.13 -1.26 L-8.28 -0.42 L-7.44 0.00 L-6.18 0.00 L-5.34 -0.42 L-4.50 -1.26M-1.98 -3.36 L3.06 -3.36 L3.06 -4.20 L2.64 -5.04 L2.22 -5.46 L1.38 -5.88 L0.12 -5.88 L-0.72 -5.46 L-1.56 -4.62 L-1.98 -3.36 L-1.98 -2.52 L-1.56 -1.26 L-0.72 -0.42 L0.12 0.00 L1.38 0.00 L2.22 -0.42 L3.06 -1.26M10.63 -8.83 L10.63 0.00M10.63 -4.62 L9.79 -5.46 L8.95 -5.88 L7.69 -5.88 L6.85 -5.46 L6.01 -4.62 L5.59 -3.36 L5.59 -2.52 L6.01 -1.26 L6.85 -0.42 L7.69 0.00 L8.95 0.00 L9.79 -0.42 L10.63 -1.26M23.66 -10.51 L22.82 -9.67 L21.98 -8.41 L21.14 -6.72 L20.72 -4.62 L20.72 -2.94 L21.14 -0.84 L21.98 0.84 L22.82 2.10 L23.66 2.94M26.60 -5.88 L26.60 0.00M26.60 -4.20 L27.86 -5.46 L28.70 -5.88 L29.96 -5.88 L30.80 -5.46 L31.22 -4.20 L31.22 0.00M31.22 -4.20 L32.48 -5.46 L33.32 -5.88 L34.59 -5.88 L35.43 -5.46 L35.85 -4.20 L35.85 0.00M43.41 -4.62 L42.99 -5.46 L41.73 -5.88 L40.47 -5.88 L39.21 -5.46 L38.79 -4.62 L39.21 -3.78 L40.05 -3.36 L42.15 -2.94 L42.99 -2.52 L43.41 -1.68 L43.41 -1.26 L42.99 -0.42 L41.73 0.00 L40.47 0.00 L39.21 -0.42 L38.79 -1.26M45.72 -8.78 L50.41 -8.78M53.01 -10.86 L53.53 -11.12 L54.31 -11.90 L54.31 -6.43M58.72 -10.51 L59.56 -9.67 L60.40 -8.41 L61.24 -6.72 L61.66 -4.62 L61.66 -2.94 L61.24 -0.84 L60.40 0.84 L59.56 2.10 L58.72 2.94" stroke="#000000" stroke-width="1" fill="none"/>
<path transform="translate(43.80 79.92)" d="M-19.33 -6.72 L-19.33 -7.15 L-18.91 -7.99 L-18.49 -8.41 L-17.65 -8.83 L-15.97 -8.83 L-15.13 -8.41 L-14.71 -7.99 L-14.29 -7.15 L-14.29 -6.30 L-14.71 -5.46 L-15.55 -4.20 L-19.75 0.00 L-13.87 0.00M-10.51 -0.84 L-10.93 -0.42 L-10.51 0.00 L-10.09 -0.42 L-10.51 -0.84M-4.62 -8.83 L-5.88 -8.41 L-6.72 -7.15 L-7.15 -5.04 L-7.15 -3.78 L-6.72 -1.68 L-5.88 -0.42 L-4.62 0.00 L-3.78 0.00 L-2.52 -0.42 L-1.68 -1.68 L-1.26 -3.78 L-1.26 -5.04 L-1.68 -7.15 L-2.52 -8.41 L-3.78 -8.83 L-4.62 -8.83" stroke="#000000" stroke-width="1" fill="none"/>
<path transform="translate(43.80 146.50)" d="M-18.49 -7.15 L-17.65 -7.57 L-16.39 -8.83 L-16.39 0.00M-10.51 -0.84 L-10.93 -0.42 L-10.51 0.00 L-10.09 -0.42 L-10.51 -0.84M-2.10 -8.83 L-6.30 -8.83 L-6.72 -5.04 L-6.30 -5.46 L-5.04 -5.88 L-3.78 -5.88 L-2.52 -5.46 L-1.68 -4.62 L-1.26 -3.36 L-1.26 -2.52 L-1.68 -1.26 L-2.52 -0.42 L-3.78 0.00 L-5.04 0.00 L-6.30 -0.42 L-6.72 -0.84 L-7.15 -1.68" stroke="#000000" stroke-width="1" fill="none"/>
<path transform="translate(43.80 216.50)" d="M-18.49 -7.15 L-17.65 -7.57 L-16.39 -8.83 L-16.39 0.00M-10.51 -0.84 L-10.93 -0.42 L-10.51 0.00 L-10.09 -0.42 L-10.51 -0.84M-4.62 -8.83 L-5.88 -8.41 L-6.72 -7.15 L-7.15 -5.04 L-7.15 -3.78 L-6.72 -1.68 L-5.88 -0.42 L-4.62 0.00 L-3.78 0.00 L-2.52 -0.42 L-1.68 -1.68 L-1.26 -3.78 L-1.26 -5.04 L-1.68 -7.15 L-2.52 -8.41 L-3.78 -8.83 L-4.62 -8.83" stroke="#000000" stroke-width="1" fill="none"/>
<path transform="translate(43.80 286.50)" d="M-17.23 -8.83 L-18.49 -8.41 L-19.33 -7.15 L-19.75 -5.04 L-19.75 -3.78 L-19.33 -1.68 L-18.49 -0.42 L-17.23 0.00 L-16.39 0.00 L-15.13 -0.42 L-14.29 -1.68 L-13.87 -3.78 L-13.87 -5.04 L-14.29 -7.15 L-15.13 -8.41 L-16.39 -8.83 L-17.23 -8.83M-10.51 -0.84 L-10.93 -0.42 L-10.51 0.00 L-10.09 -0.42 L-10.51 -0.84M-2.10 -8.83 L-6.30 -8.83 L-6.72 -5.04 L-6.30 -5.46 L-5.04 -5.88 L-3.78 -5.88 L-2.52 -5.46 L-1.68 -4.62 L-1.26 -3.36 L-1.26 -2.52 L-1.68 -1.26 L-2.52 -0.42 L-3.78 0.00 L-5.04 0.00 L-6.30 -0.42 L-6.72 -0.84 L-7.15 -1.68" stroke="#000000" stroke-width="1" fill="none"/>
<path transform="translate(43.80 351.50)" d="M-17.23 -8.83 L-18.49 -8.41 L-19.33 -7.15 L-19.75 -5.04 L-19.75 -3.78 L-19.33 -1.68 L-18.49 -0.42 L-17.23 0.00 L-16.39 0.00 L-15.13 -0.42 L-14.29 -1.68 L-13.87 -3.78 L-13.87 -5.04 L-14.29 -7.15 L-15.13 -8.41 L-16.39 -8.83 L-17.23 -8.83M-10.51 -0.84 L-10.93 -0.42 L-10.51 0.00 L-10.09 -0.42 L-10.51 -0.84M-4.62 -8.83 L-5.88 -8.41 L-6.72 -7.15 L-7.15 -5.04 L-7.15 -3.78 L-6.72 -1.68 L-5.88 -0.42 L-4.62 0.00 L-3.78 0.00 L-2.52 -0.42 L-1.68 -1.68 L-1.26 -3.78 L-1.26 -5.04 L-1.68 -7.15 L-2.52 -8.41 L-3.78 -8.83 L-4.62 -8.83" stroke="#000000" stroke-width="1" fill="none"/>
<path transform="translate(12.50 211.50) rotate(-90)" d="M-31.94 -5.88 L-36.57 0.00M-36.57 -5.88 L-31.94 -5.88M-36.57 0.00 L-31.94 0.00M-19.33 -10.51 L-20.17 -9.67 L-21.01 -8.41 L-21.86 -6.72 L-22.28 -4.62 L-22.28 -2.94 L-21.86 -0.84 L-21.01 0.84 L-20.17 2.10 L-19.33 2.94M-16.39 -8.83 L-16.39 0.00M-12.19 -5.88 L-16.39 -1.68M-14.71 -3.36 L-11.77 0.00M-9.25 -5.88 L-9.25 0.00M-9.25 -4.20 L-7.99 -5.46 L-7.15 -5.88 L-5.88 -5.88 L-5.04 -5.46 L-4.62 -4.20 L-4.62 0.00M-4.62 -4.20 L-3.36 -5.46 L-2.52 -5.88 L-1.26 -5.88 L-0.42 -5.46 L0.00 -4.20 L0.00 0.00M12.19 -8.83 L8.83 0.00M12.19 -8.83 L15.55 0.00M10.09 -2.94 L14.29 -2.94M23.54 -6.72 L23.12 -7.57 L22.28 -8.41 L21.44 -8.83 L19.75 -8.83 L18.91 -8.41 L18.07 -7.57 L17.65 -6.72 L17.23 -5.46 L17.23 -3.36 L17.65 -2.10 L18.07 -1.26 L18.91 -0.42 L19.75 0.00 L21.44 0.00 L22.28 -0.42 L23.12 -1.26 L23.54 -2.10 L23.54 -3.36M21.44 -3.36 L23.54 -3.36M26.48 -8.83 L26.48 0.00M26.48 0.00 L31.52 0.00M33.20 -10.51 L34.04 -9.67 L34.88 -8.41 L35.73 -6.72 L36.15 -4.62 L36.15 -2.94 L35.73 -0.84 L34.88 0.84 L34.04 2.10 L33.20 2.94" stroke="#000000" stroke-width="1" fill="none"/>
<rect x="328" y="71" width="1" height="7" fill="#ff0000"/>
<rect x="338" y="71" width="1" height="4" fill="#ff0000"/>
<rect x="349" y="71" width="1" height="4" fill="#ff0000"/>
<rect x="359" y="71" width="1" height="4" fill="#ff0000"/>
<rect x="370" y="71" width="1" height="4" fill="#ff0000"/>
<rect x="380" y="71" width="1" height="7" fill="#ff0000"/>
<rect x="390" y="71" width="1" height="4" fill="#ff0000"/>
<rect x="401" y="71" width="1" height="4" fill="#ff0000"/>
<rect x="411" y="71" width="1" height="4" fill="#ff0000"/>
<rect x="422" y="71" width="1" height="4" fill="#ff0000"/>
<rect x="432" y="71" width="1" height="7" fill="#ff0000"/>
<rect x="442" y="71" width="1" height="4" fill="#ff0000"/>
<rect x="453" y="71" width="1" height="4" fill="#ff0000"/>
<rect x="463" y="71" width="1" height="4" fill="#ff0000"/>
<rect x="474" y="71" width="1" height="4" fill="#ff0000"/>
<rect x="484" y="71" width="1" height="7" fill="#ff0000"/>
<rect x="494" y="71" width="1" height="4" fill="#ff0000"/>
<rect x="505" y="71" width="1" height="4" fill="#ff0000"/>
<rect x="515" y="71" width="1" height="4" fill="#ff0000"/>
<rect x="526" y="71" width="1" height="4" fill="#ff0000"/>
<rect x="536" y="71" width="1" height="7" fill="#ff0000"/>
<path transform="translate(327.70 65.50)" d="M-12.19 -3.78 L-4.62 -3.78M-0.42 -7.15 L0.42 -7.57 L1.68 -8.83 L1.68 0.00M9.25 -8.83 L7.99 -8.41 L7.15 -7.15 L6.72 -5.04 L6.72 -3.78 L7.15 -1.68 L7.99 -0.42 L9.25 0.00 L10.09 0.00 L11.35 -0.42 L12.19 -1.68 L12.61 -3.78 L12.61 -5.04 L12.19 -7.15 L11.35 -8.41 L10.09 -8.83 L9.25 -8.83" stroke="#ff0000" stroke-width="1" fill="none"/>
<path transform="translate(380.50 65.50)" d="M-7.99 -3.78 L-0.42 -3.78M7.57 -8.83 L3.36 -8.83 L2.94 -5.04 L3.36 -5.46 L4.62 -5.88 L5.88 -5.88 L7.15 -5.46 L7.99 -4.62 L8.41 -3.36 L8.41 -2.52 L7.99 -1.26 L7.15 -0.42 L5.88 0.00 L4.62 0.00 L3.36 -0.42 L2.94 -0.84 L2.52 -1.68" stroke="#ff0000" stroke-width="1" fill="none"/>
<path transform="translate(432.50 65.50)" d="M-0.42 -8.83 L-1.68 -8.41 L-2.52 -7.15 L-2.94 -5.04 L-2.94 -3.78 L-2.52 -1.68 L-1.68 -0.42 L-0.42 0.00 L0.42 0.00 L1.68 -0.42 L2.52 -1.68 L2.94 -3.78 L2.94 -5.04 L2.52 -7.15 L1.68 -8.41 L0.42 -8.83 L-0.42 -8.83" stroke="#ff0000" stroke-width="1" fill="none"/>
<path transform="translate(484.50 65.50)" d="M2.10 -8.83 L-2.10 -8.83 L-2.52 -5.04 L-2.10 -5.46 L-0.84 -5.88 L0.42 -5.88 L1.68 -5.46 L2.52 -4.62 L2.94 -3.36 L2.94 -2.52 L2.52 -1.26 L1.68 -0.42 L0.42 0.00 L-0.84 0.00 L-2.10 -0.42 L-2.52 -0.84 L-2.94 -1.68" stroke="#ff0000" stroke-width="1" fill="none"/>
<path transform="translate(536.50 65.50)" d="M-5.88 -7.15 L-5.04 -7.57 L-3.78 -8.83 L-3.78 0.00M3.78 -8.83 L2.52 -8.41 L1.68 -7.15 L1.26 -5.04 L1.26 -3.78 L1.68 -1.68 L2.52 -0.42 L3.78 0.00 L4.62 0.00 L5.88 -0.42 L6.72 -1.68 L7.15 -3.78 L7.15 -5.04 L6.72 -7.15 L5.88 -8.41 L4.62 -8.83 L3.78 -8.83" stroke="#ff0000" stroke-width="1" fill="none"/>
<path transform="translate(432.50 53.50)" d="M-76.58 -8.83 L-73.22 0.00M-69.86 -8.83 L-73.22 0.00M-68.18 -3.36 L-63.13 -3.36 L-63.13 -4.20 L-63.55 -5.04 L-63.97 -5.46 L-64.82 -5.88 L-66.08 -5.88 L-66.92 -5.46 L-67.76 -4.62 L-68.18 -3.36 L-68.18 -2.52 L-67.76 -1.26 L-66.92 -0.42 L-66.08 0.00 L-64.82 0.00 L-63.97 -0.42 L-63.13 -1.26M-60.19 -5.88 L-60.19 0.00M-60.19 -3.36 L-59.77 -4.62 L-58.93 -5.46 L-58.09 -5.88 L-56.83 -5.88M-54.31 -8.83 L-54.31 -1.68 L-53.89 -0.42 L-53.05 0.00 L-52.21 0.00M-55.57 -5.88 L-52.63 -5.88M-50.10 -8.83 L-49.68 -8.41 L-49.26 -8.83 L-49.68 -9.25 L-50.10 -8.83M-49.68 -5.88 L-49.68 0.00M-41.70 -4.62 L-42.54 -5.46 L-43.38 -5.88 L-44.64 -5.88 L-45.48 -5.46 L-46.32 -4.62 L-46.74 -3.36 L-46.74 -2.52 L-46.32 -1.26 L-45.48 -0.42 L-44.64 0.00 L-43.38 0.00 L-42.54 -0.42 L-41.70 -1.26M-34.13 -5.88 L-34.13 0.00M-34.13 -4.62 L-34.97 -5.46 L-35.81 -5.88 L-37.08 -5.88 L-37.92 -5.46 L-38.76 -4.62 L-39.18 -3.36 L-39.18 -2.52 L-38.76 -1.26 L-37.92 -0.42 L-37.08 0.00 L-35.81 0.00 L-34.97 -0.42 L-34.13 -1.26M-30.77 -8.83 L-30.77 0.00M-21.52 -5.88 L-19.00 0.00M-16.48 -5.88 L-19.00 0.00M-14.38 -3.36 L-9.34 -3.36 L-9.34 -4.20 L-9.76 -5.04 L-10.18 -5.46 L-11.02 -5.88 L-12.28 -5.88 L-13.12 -5.46 L-13.96 -4.62 L-14.38 -3.36 L-14.38 -2.52 L-13.96 -1.26 L-13.12 -0.42 L-12.28 0.00 L-11.02 0.00 L-10.18 -0.42 L-9.34 -1.26M-6.39 -8.83 L-6.39 0.00M-1.35 -5.88 L-2.19 -5.46 L-3.03 -4.62 L-3.45 -3.36 L-3.45 -2.52 L-3.03 -1.26 L-2.19 -0.42 L-1.35 0.00 L-0.09 0.00 L0.75 -0.42 L1.59 -1.26 L2.01 -2.52 L2.01 -3.36 L1.59 -4.62 L0.75 -5.46 L-0.09 -5.88 L-1.35 -5.88M9.58 -4.62 L8.74 -5.46 L7.90 -5.88 L6.64 -5.88 L5.80 -5.46 L4.95 -4.62 L4.53 -3.36 L4.53 -2.52 L4.95 -1.26 L5.80 -0.42 L6.64 0.00 L7.90 0.00 L8.74 -0.42 L9.58 -1.26M12.10 -8.83 L12.52 -8.41 L12.94 -8.83 L12.52 -9.25 L12.10 -8.83M12.52 -5.88 L12.52 0.00M16.30 -8.83 L16.30 -1.68 L16.72 -0.42 L17.56 0.00 L18.40 0.00M15.04 -5.88 L17.98 -5.88M20.09 -5.88 L22.61 0.00M25.13 -5.88 L22.61 0.00 L21.77 1.68 L20.93 2.52 L20.09 2.94 L19.67 2.94M37.32 -10.51 L36.48 -9.67 L35.64 -8.41 L34.80 -6.72 L34.38 -4.62 L34.38 -2.94 L34.80 -0.84 L35.64 0.84 L36.48 2.10 L37.32 2.94M40.26 -5.88 L40.26 0.00M40.26 -4.20 L41.52 -5.46 L42.36 -5.88 L43.62 -5.88 L44.46 -5.46 L44.88 -4.20 L44.88 0.00M44.88 -4.20 L46.14 -5.46 L46.98 -5.88 L48.25 -5.88 L49.09 -5.46 L49.51 -4.20 L49.51 0.00M57.07 -4.62 L56.65 -5.46 L55.39 -5.88 L54.13 -5.88 L52.87 -5.46 L52.45 -4.62 L52.87 -3.78 L53.71 -3.36 L55.81 -2.94 L56.65 -2.52 L57.07 -1.68 L57.07 -1.26 L56.65 -0.42 L55.39 0.00 L54.13 0.00 L52.87 -0.42 L52.45 -1.26M59.38 -8.78 L64.07 -8.78M66.67 -10.86 L67.19 -11.12 L67.97 -11.90 L67.97 -6.43M72.38 -10.51 L73.22 -9.67 L74.06 -8.41 L74.90 -6.72 L75.32 -4.62 L75.32 -2.94 L74.90 -0.84 L74.06 0.84 L73.22 2.10 L72.38 2.94" stroke="#ff0000" stroke-width="1" fill="none"/>
<rect x="432" y="78" width="1" height="1" fill="#ff0000"/>
<rect x="432" y="82" width="1" height="1" fill="#ff0000"/>
<rect x="432" y="86" width="1" height="1" fill="#ff0000"/>
<rect x="432" y="90" width="1" height="1" fill="#ff0000"/>
<rect x="432" y="94" width="1" height="1" fill="#ff0000"/>
<rect x="432" y="98" width="1" height="1" fill="#ff0000"/>
<rect x="432" y="102" width="1" height="1" fill="#ff0000"/>
<rect x="432" y="106" width="1" height="1" fill="#ff0000"/>
<rect x="432" y="110" width="1" height="1" fill="#ff0000"/>
<rect x="432" y="114" width="1" height="1" fill="#ff0000"/>
<rect x="432" y="118" width="1" height="1" fill="#ff0000"/>
<rect x="432" y="122" width="1" height="1" fill="#ff0000"/>
<rect x="432" y="126" width="1" height="1" fill="#ff0000"/>
<rect x="432" y="130" width="1" height="1" fill="#ff0000"/>
<rect x="432" y="134" width="1" height="1" fill="#ff0000"/>
<rect x="432" y="138" width="1" height="1" fill="#ff0000"/>
<rect x="432" y="142" width="1" height="1" fill="#ff0000"/>
<rect x="432" y="146" width="1" height="1" fill="#ff0000"/>
<rect x="432" y="150" width="1" height="1" fill="#ff0000"/>
<rect x="432" y="154" width="1" height="1" fill="#ff0000"/>
<rect x="432" y="158" width="1" height="1" fill="#ff0000"/>
<rect x="432" y="162" width="1" height="1" fill="#ff0000"/>
<rect x="432" y="166" width="1" height="1" fill="#ff0000"/>
<rect x="432" y="170" width="1" height="1" fill="#ff0000"/>
<rect x="432" y="174" width="1" height="1" fill="#ff0000"/>
<rect x="432" y="178" width="1" height="1" fill="#ff0000"/>
<rect x="432" y="182" width="1" height="1" fill="#ff0000"/>
<rect x="432" y="186" width="1" height="1" fill="#ff0000"/>
<rect x="432" y="190" width="1" height="1" fill="#ff0000"/>
<rect x="432" y="194" width="1" height="1" fill="#ff0000"/>
<rect x="432" y="198" width="1" height="1" fill="#ff0000"/>
<rect x="432" y="202" width="1" height="1" fill="#ff0000"/>
<rect x="432" y="206" width="1" height="1" fill="#ff0000"/>
<rect x="432" y="210" width="1" height="1" fill="#ff0000"/>
<rect x="432" y="214" width="1" height="1" fill="#ff0000"/>
<rect x="432" y="218" width="1" height="1" fill="#ff0000"/>
<rect x="432" y="222" width="1" height="1" fill="#ff0000"/>
<rect x="432" y="226" width="1" height="1" fill="#ff0000"/>
<rect x="432" y="230" width="1" height="1" fill="#ff0000"/>
<rect x="432" y="234" width="1" height="1" fill="#ff0000"/>
<rect x="432" y="238" width="1" height="1" fill="#ff0000"/>
<rect x="432" y="242" width="1" height="1" fill="#ff0000"/>
<rect x="432" y="246" width="1" height="1" fill="#ff0000"/>
<rect x="432" y="250" width="1" height="1" fill="#ff0000"/>
<rect x="432" y="254" width="1" height="1" fill="#ff0000"/>
<rect x="432" y="258" width="1" height="1" fill="#ff0000"/>
<rect x="432" y="262" width="1" height="1" fill="#ff0000"/>
<rect x="432" y="266" width="1" height="1" fill="#ff0000"/>
<rect x="432" y="270" width="1" height="1" fill="#ff0000"/>
<rect x="432" y="274" width="1" height="1" fill="#ff0000"/>
<rect x="432" y="278" width="1" height="1" fill="#ff0000"/>
<rect x="432" y="282" width="1" height="1" fill="#ff0000"/>
<rect x="432" y="286" width="1" height="1" fill="#ff0000"/>
<rect x="432" y="290" width="1" height="1" fill="#ff0000"/>
<rect x="432" y="294" width="1" height="1" fill="#ff0000"/>
<rect x="432" y="298" width="1" height="1" fill="#ff0000"/>
<rect x="432" y="302" width="1" height="1" fill="#ff0000"/>
<rect x="432" y="306" width="1" height="1" fill="#ff0000"/>
<rect x="432" y="310" width="1" height="1" fill="#ff0000"/>
<rect x="432" y="314" width="1" height="1" fill="#ff0000"/>
<rect x="432" y="318" width="1" height="1" fill="#ff0000"/>
<rect x="432" y="322" width="1" height="1" fill="#ff0000"/>
<rect x="432" y="326" width="1" height="1" fill="#ff0000"/>
<rect x="432" y="330" width="1" height="1" fill="#ff0000"/>
<rect x="432" y="334" width="1" height="1" fill="#ff0000"/>
<rect x="432" y="338" width="1" height="1" fill="#ff0000"/>
<rect x="432" y="342" width="1" height="1" fill="#ff0000"/>
<rect x="432" y="346" width="1" height="1" fill="#ff0000"/>
<rect x="432" y="350" width="1" height="1" fill="#ff0000"/>
<polyline points="417.30,331.94 414.20,324.04 407.80,316.15 401.00,308.26 396.50,300.36 390.30,292.47 383.30,284.58 372.00,276.68 373.10,268.79 374.30,260.90 363.80,253.00 352.40,245.11 352.10,237.22 341.00,229.32 347.60,221.43 353.60,213.54 365.10,205.64 359.10,197.75 358.30,189.85 351.80,181.96 331.80,174.07 361.30,166.17 344.80,158.28 344.30,150.39 358.30,142.49 337.10,134.60 350.30,126.71 333.30,118.81 347.30,110.92 339.60,103.03 339.30,95.13 333.00,87.24" fill="none" stroke="#000000" stroke-width="1"/>
<polyline points="432.20,331.94 432.10,324.04 432.10,316.15 431.30,308.26 430.30,300.36 430.30,292.47 430.30,284.58" fill="none" stroke="#ff0000" stroke-width="1"/>
<path d="M430 330h4v1h1v2h-1v1h-4z" fill="#b03818"/>
<path d="M430 322h4v1h1v2h-1v1h-4z" fill="#b03818"/>
<path d="M430 314h4v1h1v2h-1v1h-4z" fill="#b03818"/>
<path d="M429 307h5v3h-2v1h-1v-1h-2z" fill="#b03818"/>
<path d="M428 299h5v3h-2v1h-1v-1h-2z" fill="#b03818"/>
<path d="M428 291h5v3h-2v1h-2v-1h-1z" fill="#b03818"/>
<path d="M428 283h5v3h-2v1h-2v-1h-1z" fill="#b03818"/>
<path d="M415 330h4v1h1v2h-1v1h-4z" fill="#000000"/>
<path d="M412 322h4v1h1v2h-1v1h-4z" fill="#000000"/>
<path d="M405 314h4v1h1v2h-1v1h-4z" fill="#000000"/>
<path d="M399 307h5v3h-2v1h-1v-1h-2z" fill="#000000"/>
<path d="M394 299h5v3h-2v1h-1v-1h-2z" fill="#000000"/>
<path d="M388 291h5v3h-2v1h-2v-1h-1z" fill="#000000"/>
<path d="M381 283h5v3h-2v1h-2v-1h-1z" fill="#000000"/>
<path d="M370 275h5v3h-2v1h-2v-1h-1z" fill="#000000"/>
<path d="M371 267h4v1h1v2h-1v1h-4z" fill="#000000"/>
<path d="M372 259h4v1h1v2h-1v1h-4z" fill="#000000"/>
<path d="M361 251h4v1h1v2h-1v1h-4z" fill="#000000"/>
<path d="M350 243h4v1h1v2h-1v1h-4z" fill="#000000"/>
<path d="M350 236h5v3h-2v1h-1v-1h-2z" fill="#000000"/>
<path d="M339 228h5v3h-2v1h-1v-1h-2z" fill="#000000"/>
<path d="M345 220h5v3h-2v1h-2v-1h-1z" fill="#000000"/>
<path d="M351 212h5v3h-2v1h-2v-1h-1z" fill="#000000"/>
<path d="M363 204h5v3h-2v1h-2v-1h-1z" fill="#000000"/>
<path d="M357 196h4v1h1v2h-1v1h-4z" fill="#000000"/>
<path d="M356 188h4v1h1v2h-1v1h-4z" fill="#000000"/>
<path d="M349 180h4v1h1v2h-1v1h-4z" fill="#000000"/>
<path d="M329 172h4v1h1v2h-1v1h-4z" fill="#000000"/>
<path d="M359 165h5v3h-2v1h-1v-1h-2z" fill="#000000"/>
<path d="M342 157h5v3h-2v1h-1v-1h-2z" fill="#000000"/>
<path d="M342 149h5v3h-2v1h-2v-1h-1z" fill="#000000"/>
<path d="M356 141h5v3h-2v1h-2v-1h-1z" fill="#000000"/>
<path d="M335 133h5v3h-2v1h-2v-1h-1z" fill="#000000"/>
<path d="M348 125h5v3h-2v1h-2v-1h-1z" fill="#000000"/>
<path d="M331 117h4v1h1v2h-1v1h-4z" fill="#000000"/>
<path d="M345 109h4v1h1v2h-1v1h-4z" fill="#000000"/>
<path d="M337 101h4v1h1v2h-1v1h-4z" fill="#000000"/>
<path d="M337 93h4v1h1v2h-1v1h-4z" fill="#000000"/>
<path d="M331 86h5v3h-2v1h-1v-1h-2z" fill="#000000"/>
<rect x="432" y="78" width="1" height="1" fill="#ff0000"/>
<rect x="432" y="82" width="1" height="1" fill="#ff0000"/>
<rect x="432" y="86" width="1" height="1" fill="#ff0000"/>
<rect x="432" y="90" width="1" height="1" fill="#ff0000"/>
<rect x="432" y="94" width="1" height="1" fill="#ff0000"/>
<rect x="432" y="98" width="1" height="1" fill="#ff0000"/>
<rect x="432" y="102" width="1" height="1" fill="#ff0000"/>
<rect x="432" y="106" width="1" height="1" fill="#ff0000"/>
<rect x="432" y="110" width="1" height="1" fill="#ff0000"/>
<rect x="432" y="114" width="1" height="1" fill="#ff0000"/>
<rect x="432" y="118" width="1" height="1" fill="#ff0000"/>
<rect x="432" y="122" width="1" height="1" fill="#ff0000"/>
<rect x="432" y="126" width="1" height="1" fill="#ff0000"/>
<rect x="432" y="130" width="1" height="1" fill="#ff0000"/>
<rect x="432" y="134" width="1" height="1" fill="#ff0000"/>
<rect x="432" y="138" width="1" height="1" fill="#ff0000"/>
<rect x="432" y="142" width="1" height="1" fill="#ff0000"/>
<rect x="432" y="146" width="1" height="1" fill="#ff0000"/>
<rect x="432" y="150" width="1" height="1" fill="#ff0000"/>
<rect x="432" y="154" width="1" height="1" fill="#ff0000"/>
<rect x="432" y="158" width="1" height="1" fill="#ff0000"/>
<rect x="432" y="162" width="1" height="1" fill="#ff0000"/>
<rect x="432" y="166" width="1" height="1" fill="#ff0000"/>
<rect x="432" y="170" width="1" height="1" fill="#ff0000"/>
<rect x="432" y="174" width="1" height="1" fill="#ff0000"/>
<rect x="432" y="178" width="1" height="1" fill="#ff0000"/>
<rect x="432" y="182" width="1" height="1" fill="#ff0000"/>
<rect x="432" y="186" width="1" height="1" fill="#ff0000"/>
<rect x="432" y="190" width="1" height="1" fill="#ff0000"/>
<rect x="432" y="194" width="1" height="1" fill="#ff0000"/>
<rect x="432" y="198" width="1" height="1" fill="#ff0000"/>
<rect x="432" y="202" width="1" height="1" fill="#ff0000"/>
<rect x="432" y="206" width="1" height="1" fill="#ff0000"/>
<rect x="432" y="210" width="1" height="1" fill="#ff0000"/>
<rect x="432" y="214" width="1" height="1" fill="#ff0000"/>
<rect x="432" y="218" width="1" height="1" fill="#ff0000"/>
<rect x="432" y="222" width="1" height="1" fill="#ff0000"/>
<rect x="432" y="226" width="1" height="1" fill="#ff0000"/>
<rect x="432" y="230" width="1" height="1" fill="#ff0000"/>
<rect x="432" y="234" width="1" height="1" fill="#ff0000"/>
<rect x="432" y="238" width="1" height="1" fill="#ff0000"/>
<rect x="432" y="242" width="1" height="1" fill="#ff0000"/>
<rect x="432" y="246" width="1" height="1" fill="#ff0000"/>
<rect x="432" y="250" width="1" height="1" fill="#ff0000"/>
<rect x="432" y="254" width="1" height="1" fill="#ff0000"/>
<rect x="432" y="258" width="1" height="1" fill="#ff0000"/>
<rect x="432" y="262" width="1" height="1" fill="#ff0000"/>
<rect x="432" y="266" width="1" height="1" fill="#ff0000"/>
<rect x="432" y="270" width="1" height="1" fill="#ff0000"/>
<rect x="432" y="274" width="1" height="1" fill="#ff0000"/>
<rect x="432" y="278" width="1" height="1" fill="#ff0000"/>
<rect x="432" y="282" width="1" height="1" fill="#ff0000"/>
<rect x="432" y="286" width="1" height="1" fill="#ff0000"/>
<rect x="432" y="290" width="1" height="1" fill="#ff0000"/>
<rect x="432" y="294" width="1" height="1" fill="#ff0000"/>
<rect x="432" y="298" width="1" height="1" fill="#ff0000"/>
<rect x="432" y="302" width="1" height="1" fill="#ff0000"/>
<rect x="432" y="306" width="1" height="1" fill="#ff0000"/>
<rect x="432" y="310" width="1" height="1" fill="#ff0000"/>
<rect x="432" y="314" width="1" height="1" fill="#ff0000"/>
<rect x="432" y="318" width="1" height="1" fill="#ff0000"/>
<rect x="432" y="322" width="1" height="1" fill="#ff0000"/>
<rect x="432" y="326" width="1" height="1" fill="#ff0000"/>
<rect x="432" y="330" width="1" height="1" fill="#ff0000"/>
<rect x="432" y="334" width="1" height="1" fill="#ff0000"/>
<rect x="432" y="338" width="1" height="1" fill="#ff0000"/>
<rect x="432" y="342" width="1" height="1" fill="#ff0000"/>
<rect x="432" y="346" width="1" height="1" fill="#ff0000"/>
<rect x="432" y="350" width="1" height="1" fill="#ff0000"/>
<rect x="328" y="71" width="1" height="281" fill="#000000"/>
<rect x="536" y="71" width="1" height="281" fill="#000000"/>
<rect x="328" y="351" width="209" height="1" fill="#000000"/>
<rect x="328" y="71" width="209" height="1" fill="#000000"/>
<rect x="328" y="345" width="1" height="7" fill="#000000"/>
<rect x="344" y="348" width="1" height="4" fill="#000000"/>
<rect x="353" y="348" width="1" height="4" fill="#000000"/>
<rect x="359" y="348" width="1" height="4" fill="#000000"/>
<rect x="364" y="348" width="1" height="4" fill="#000000"/>
<rect x="368" y="348" width="1" height="4" fill="#000000"/>
<rect x="372" y="348" width="1" height="4" fill="#000000"/>
<rect x="375" y="348" width="1" height="4" fill="#000000"/>
<rect x="378" y="348" width="1" height="4" fill="#000000"/>
<rect x="380" y="345" width="1" height="7" fill="#000000"/>
<rect x="396" y="348" width="1" height="4" fill="#000000"/>
<rect x="405" y="348" width="1" height="4" fill="#000000"/>
<rect x="411" y="348" width="1" height="4" fill="#000000"/>
<rect x="416" y="348" width="1" height="4" fill="#000000"/>
<rect x="420" y="348" width="1" height="4" fill="#000000"/>
<rect x="424" y="348" width="1" height="4" fill="#000000"/>
<rect x="427" y="348" width="1" height="4" fill="#000000"/>
<rect x="430" y="348" width="1" height="4" fill="#000000"/>
<rect x="432" y="345" width="1" height="7" fill="#000000"/>
<rect x="448" y="348" width="1" height="4" fill="#000000"/>
<rect x="457" y="348" width="1" height="4" fill="#000000"/>
<rect x="463" y="348" width="1" height="4" fill="#000000"/>
<rect x="468" y="348" width="1" height="4" fill="#000000"/>
<rect x="472" y="348" width="1" height="4" fill="#000000"/>
<rect x="476" y="348" width="1" height="4" fill="#000000"/>
<rect x="479" y="348" width="1" height="4" fill="#000000"/>
<rect x="482" y="348" width="1" height="4" fill="#000000"/>
<rect x="484" y="345" width="1" height="7" fill="#000000"/>
<rect x="500" y="348" width="1" height="4" fill="#000000"/>
<rect x="509" y="348" width="1" height="4" fill="#000000"/>
<rect x="515" y="348" width="1" height="4" fill="#000000"/>
<rect x="520" y="348" width="1" height="4" fill="#000000"/>
<rect x="524" y="348" width="1" height="4" fill="#000000"/>
<rect x="528" y="348" width="1" height="4" fill="#000000"/>
<rect x="531" y="348" width="1" height="4" fill="#000000"/>
<rect x="534" y="348" width="1" height="4" fill="#000000"/>
<rect x="536" y="345" width="1" height="7" fill="#000000"/>
<rect x="432" y="78" width="1" height="1" fill="#ff0000"/>
<rect x="432" y="82" width="1" height="1" fill="#ff0000"/>
<rect x="432" y="86" width="1" height="1" fill="#ff0000"/>
<rect x="432" y="90" width="1" height="1" fill="#ff0000"/>
<rect x="432" y="94" width="1" height="1" fill="#ff0000"/>
<rect x="432" y="98" width="1" height="1" fill="#ff0000"/>
<rect x="432" y="102" width="1" height="1" fill="#ff0000"/>
<rect x="432" y="106" width="1" height="1" fill="#ff0000"/>
<rect x="432" y="110" width="1" height="1" fill="#ff0000"/>
<rect x="432" y="114" width="1" height="1" fill="#ff0000"/>
<rect x="432" y="118" width="1" height="1" fill="#ff0000"/>
<rect x="432" y="122" width="1" height="1" fill="#ff0000"/>
<rect x="432" y="126" width="1" height="1" fill="#ff0000"/>
<rect x="432" y="130" width="1" height="1" fill="#ff0000"/>
<rect x="432" y="134" width="1" height="1" fill="#ff0000"/>
<rect x="432" y="138" width="1" height="1" fill="#ff0000"/>
<rect x="432" y="142" width="1" height="1" fill="#ff0000"/>
<rect x="432" y="146" width="1" height="1" fill="#ff0000"/>
<rect x="432" y="150" width="1" height="1" fill="#ff0000"/>
<rect x="432" y="154" width="1" height="1" fill="#ff0000"/>
<rect x="432" y="158" width="1" height="1" fill="#ff0000"/>
<rect x="432" y="162" width="1" height="1" fill="#ff0000"/>
<rect x="432" y="166" width="1" height="1" fill="#ff0000"/>
<rect x="432" y="170" width="1" height="1" fill="#ff0000"/>
<rect x="432" y="174" width="1" height="1" fill="#ff0000"/>
<rect x="432" y="178" width="1" height="1" fill="#ff0000"/>
<rect x="432" y="182" width="1" height="1" fill="#ff0000"/>
<rect x="432" y="186" width="1" height="1" fill="#ff0000"/>
<rect x="432" y="190" width="1" height="1" fill="#ff0000"/>
<rect x="432" y="194" width="1" height="1" fill="#ff0000"/>
<rect x="432" y="198" width="1" height="1" fill="#ff0000"/>
<rect x="432" y="202" width="1" height="1" fill="#ff0000"/>
<rect x="432" y="206" width="1" height="1" fill="#ff0000"/>
<rect x="432" y="210" width="1" height="1" fill="#ff0000"/>
<rect x="432" y="214" width="1" height="1" fill="#ff0000"/>
<rect x="432" y="218" width="1" height="1" fill="#ff0000"/>
<rect x="432" y="222" width="1" height="1" fill="#ff0000"/>
<rect x="432" y="226" width="1" height="1" fill="#ff0000"/>
<rect x="432" y="230" width="1" height="1" fill="#ff0000"/>
<rect x="432" y="234" width="1" height="1" fill="#ff0000"/>
<rect x="432" y="238" width="1" height="1" fill="#ff0000"/>
<rect x="432" y="242" width="1" height="1" fill="#ff0000"/>
<rect x="432" y="246" width="1" height="1" fill="#ff0000"/>
<rect x="432" y="250" width="1" height="1" fill="#ff0000"/>
<rect x="432" y="254" width="1" height="1" fill="#ff0000"/>
<rect x="432" y="258" width="1" height="1" fill="#ff0000"/>
<rect x="432" y="262" width="1" height="1" fill="#ff0000"/>
<rect x="432" y="266" width="1" height="1" fill="#ff0000"/>
<rect x="432" y="270" width="1" height="1" fill="#ff0000"/>
<rect x="432" y="274" width="1" height="1" fill="#ff0000"/>
<rect x="432" y="278" width="1" height="1" fill="#ff0000"/>
<rect x="432" y="282" width="1" height="1" fill="#ff0000"/>
<rect x="432" y="286" width="1" height="1" fill="#ff0000"/>
<rect x="432" y="290" width="1" height="1" fill="#ff0000"/>
<rect x="432" y="294" width="1" height="1" fill="#ff0000"/>
<rect x="432" y="298" width="1" height="1" fill="#ff0000"/>
<rect x="432" y="302" width="1" height="1" fill="#ff0000"/>
<rect x="432" y="306" width="1" height="1" fill="#ff0000"/>
<rect x="432" y="310" width="1" height="1" fill="#ff0000"/>
<rect x="432" y="314" width="1" height="1" fill="#ff0000"/>
<rect x="432" y="318" width="1" height="1" fill="#ff0000"/>
<rect x="432" y="322" width="1" height="1" fill="#ff0000"/>
<rect x="432" y="326" width="1" height="1" fill="#ff0000"/>
<rect x="432" y="330" width="1" height="1" fill="#ff0000"/>
<rect x="432" y="334" width="1" height="1" fill="#ff0000"/>
<rect x="432" y="338" width="1" height="1" fill="#ff0000"/>
<rect x="432" y="342" width="1" height="1" fill="#ff0000"/>
<rect x="432" y="346" width="1" height="1" fill="#ff0000"/>
<rect x="432" y="350" width="1" height="1" fill="#ff0000"/>
<path transform="translate(328.50 369.50)" d="M-15.13 -8.83 L-16.39 -8.41 L-17.23 -7.15 L-17.65 -5.04 L-17.65 -3.78 L-17.23 -1.68 L-16.39 -0.42 L-15.13 0.00 L-14.29 0.00 L-13.03 -0.42 L-12.19 -1.68 L-11.77 -3.78 L-11.77 -5.04 L-12.19 -7.15 L-13.03 -8.41 L-14.29 -8.83 L-15.13 -8.83M-8.41 -0.84 L-8.83 -0.42 L-8.41 0.00 L-7.99 -0.42 L-8.41 -0.84M-2.52 -8.83 L-3.78 -8.41 L-4.62 -7.15 L-5.04 -5.04 L-5.04 -3.78 L-4.62 -1.68 L-3.78 -0.42 L-2.52 0.00 L-1.68 0.00 L-0.42 -0.42 L0.42 -1.68 L0.84 -3.78 L0.84 -5.04 L0.42 -7.15 L-0.42 -8.41 L-1.68 -8.83 L-2.52 -8.83M5.88 -8.83 L4.62 -8.41 L3.78 -7.15 L3.36 -5.04 L3.36 -3.78 L3.78 -1.68 L4.62 -0.42 L5.88 0.00 L6.72 0.00 L7.99 -0.42 L8.83 -1.68 L9.25 -3.78 L9.25 -5.04 L8.83 -7.15 L7.99 -8.41 L6.72 -8.83 L5.88 -8.83M13.03 -7.15 L13.87 -7.57 L15.13 -8.83 L15.13 0.00" stroke="#000000" stroke-width="1" fill="none"/>
<path transform="translate(380.50 369.50)" d="M-15.13 -8.83 L-16.39 -8.41 L-17.23 -7.15 L-17.65 -5.04 L-17.65 -3.78 L-17.23 -1.68 L-16.39 -0.42 L-15.13 0.00 L-14.29 0.00 L-13.03 -0.42 L-12.19 -1.68 L-11.77 -3.78 L-11.77 -5.04 L-12.19 -7.15 L-13.03 -8.41 L-14.29 -8.83 L-15.13 -8.83M-8.41 -0.84 L-8.83 -0.42 L-8.41 0.00 L-7.99 -0.42 L-8.41 -0.84M-2.52 -8.83 L-3.78 -8.41 L-4.62 -7.15 L-5.04 -5.04 L-5.04 -3.78 L-4.62 -1.68 L-3.78 -0.42 L-2.52 0.00 L-1.68 0.00 L-0.42 -0.42 L0.42 -1.68 L0.84 -3.78 L0.84 -5.04 L0.42 -7.15 L-0.42 -8.41 L-1.68 -8.83 L-2.52 -8.83M4.62 -7.15 L5.46 -7.57 L6.72 -8.83 L6.72 0.00M14.29 -8.83 L13.03 -8.41 L12.19 -7.15 L11.77 -5.04 L11.77 -3.78 L12.19 -1.68 L13.03 -0.42 L14.29 0.00 L15.13 0.00 L16.39 -0.42 L17.23 -1.68 L17.65 -3.78 L17.65 -5.04 L17.23 -7.15 L16.39 -8.41 L15.13 -8.83 L14.29 -8.83" stroke="#000000" stroke-width="1" fill="none"/>
<path transform="translate(432.50 369.50)" d="M-15.13 -8.83 L-16.39 -8.41 L-17.23 -7.15 L-17.65 -5.04 L-17.65 -3.78 L-17.23 -1.68 L-16.39 -0.42 L-15.13 0.00 L-14.29 0.00 L-13.03 -0.42 L-12.19 -1.68 L-11.77 -3.78 L-11.77 -5.04 L-12.19 -7.15 L-13.03 -8.41 L-14.29 -8.83 L-15.13 -8.83M-8.41 -0.84 L-8.83 -0.42 L-8.41 0.00 L-7.99 -0.42 L-8.41 -0.84M-3.78 -7.15 L-2.94 -7.57 L-1.68 -8.83 L-1.68 0.00M5.88 -8.83 L4.62 -8.41 L3.78 -7.15 L3.36 -5.04 L3.36 -3.78 L3.78 -1.68 L4.62 -0.42 L5.88 0.00 L6.72 0.00 L7.99 -0.42 L8.83 -1.68 L9.25 -3.78 L9.25 -5.04 L8.83 -7.15 L7.99 -8.41 L6.72 -8.83 L5.88 -8.83M14.29 -8.83 L13.03 -8.41 L12.19 -7.15 L11.77 -5.04 L11.77 -3.78 L12.19 -1.68 L13.03 -0.42 L14.29 0.00 L15.13 0.00 L16.39 -0.42 L17.23 -1.68 L17.65 -3.78 L17.65 -5.04 L17.23 -7.15 L16.39 -8.41 L15.13 -8.83 L14.29 -8.83" stroke="#000000" stroke-width="1" fill="none"/>
<path transform="translate(484.50 369.50)" d="M-16.39 -7.15 L-15.55 -7.57 L-14.29 -8.83 L-14.29 0.00M-8.41 -0.84 L-8.83 -0.42 L-8.41 0.00 L-7.99 -0.42 L-8.41 -0.84M-2.52 -8.83 L-3.78 -8.41 L-4.62 -7.15 L-5.04 -5.04 L-5.04 -3.78 L-4.62 -1.68 L-3.78 -0.42 L-2.52 0.00 L-1.68 0.00 L-0.42 -0.42 L0.42 -1.68 L0.84 -3.78 L0.84 -5.04 L0.42 -7.15 L-0.42 -8.41 L-1.68 -8.83 L-2.52 -8.83M5.88 -8.83 L4.62 -8.41 L3.78 -7.15 L3.36 -5.04 L3.36 -3.78 L3.78 -1.68 L4.62 -0.42 L5.88 0.00 L6.72 0.00 L7.99 -0.42 L8.83 -1.68 L9.25 -3.78 L9.25 -5.04 L8.83 -7.15 L7.99 -8.41 L6.72 -8.83 L5.88 -8.83M14.29 -8.83 L13.03 -8.41 L12.19 -7.15 L11.77 -5.04 L11.77 -3.78 L12.19 -1.68 L13.03 -0.42 L14.29 0.00 L15.13 0.00 L16.39 -0.42 L17.23 -1.68 L17.65 -3.78 L17.65 -5.04 L17.23 -7.15 L16.39 -8.41 L15.13 -8.83 L14.29 -8.83" stroke="#000000" stroke-width="1" fill="none"/>
<path transform="translate(536.50 369.50)" d="M-20.59 -7.15 L-19.75 -7.57 L-18.49 -8.83 L-18.49 0.00M-10.93 -8.83 L-12.19 -8.41 L-13.03 -7.15 L-13.45 -5.04 L-13.45 -3.78 L-13.03 -1.68 L-12.19 -0.42 L-10.93 0.00 L-10.09 0.00 L-8.83 -0.42 L-7.99 -1.68 L-7.57 -3.78 L-7.57 -5.04 L-7.99 -7.15 L-8.83 -8.41 L-10.09 -8.83 L-10.93 -8.83M-4.20 -0.84 L-4.62 -0.42 L-4.20 0.00 L-3.78 -0.42 L-4.20 -0.84M1.68 -8.83 L0.42 -8.41 L-0.42 -7.15 L-0.84 -5.04 L-0.84 -3.78 L-0.42 -1.68 L0.42 -0.42 L1.68 0.00 L2.52 0.00 L3.78 -0.42 L4.62 -1.68 L5.04 -3.78 L5.04 -5.04 L4.62 -7.15 L3.78 -8.41 L2.52 -8.83 L1.68 -8.83M10.09 -8.83 L8.83 -8.41 L7.99 -7.15 L7.57 -5.04 L7.57 -3.78 L7.99 -1.68 L8.83 -0.42 L10.09 0.00 L10.93 0.00 L12.19 -0.42 L13.03 -1.68 L13.45 -3.78 L13.45 -5.04 L13.03 -7.15 L12.19 -8.41 L10.93 -8.83 L10.09 -8.83M18.49 -8.83 L17.23 -8.41 L16.39 -7.15 L15.97 -5.04 L15.97 -3.78 L16.39 -1.68 L17.23 -0.42 L18.49 0.00 L19.33 0.00 L20.59 -0.42 L21.44 -1.68 L21.86 -3.78 L21.86 -5.04 L21.44 -7.15 L20.59 -8.41 L19.33 -8.83 L18.49 -8.83" stroke="#000000" stroke-width="1" fill="none"/>
<path transform="translate(432.50 385.50)" d="M-6.09 -7.57 L-6.93 -8.41 L-8.20 -8.83 L-9.88 -8.83 L-11.14 -8.41 L-11.98 -7.57 L-11.98 -6.72 L-11.56 -5.88 L-11.14 -5.46 L-10.30 -5.04 L-7.78 -4.20 L-6.93 -3.78 L-6.51 -3.36 L-6.09 -2.52 L-6.09 -1.26 L-6.93 -0.42 L-8.20 0.00 L-9.88 0.00 L-11.14 -0.42 L-11.98 -1.26M-3.15 -8.83 L-3.15 0.00M-3.15 -8.83 L2.73 0.00M2.73 -8.83 L2.73 0.00M6.09 -8.83 L6.09 0.00M6.09 -8.83 L9.88 -8.83 L11.14 -8.41 L11.56 -7.99 L11.98 -7.15 L11.98 -6.30 L11.56 -5.46 L11.14 -5.04 L9.88 -4.62 L6.09 -4.62M9.04 -4.62 L11.98 0.00" stroke="#000000" stroke-width="1" fill="none"/>
<polyline points="571.40,331.94 569.40,324.04 569.40,316.15 569.40,308.26 569.40,300.36 569.40,292.47 569.40,284.58" fill="none" stroke="#000000" stroke-width="1"/>
<g clip-path="url(#c3)">
<path d="M774 330h4v1h1v2h-1v1h-4z" fill="#b03818"/>
<path d="M774 322h4v1h1v2h-1v1h-4z" fill="#b03818"/>
<path d="M774 314h4v1h1v2h-1v1h-4z" fill="#b03818"/>
<path d="M774 307h5v3h-2v1h-1v-1h-2z" fill="#b03818"/>
<path d="M774 299h5v3h-2v1h-1v-1h-2z" fill="#b03818"/>
<path d="M774 291h5v3h-2v1h-2v-1h-1z" fill="#b03818"/>
<path d="M774 283h5v3h-2v1h-2v-1h-1z" fill="#b03818"/>
</g>
<g clip-path="url(#c3)">
<path d="M569 330h4v1h1v2h-1v1h-4z" fill="#000000"/>
<path d="M567 322h4v1h1v2h-1v1h-4z" fill="#000000"/>
<path d="M567 314h4v1h1v2h-1v1h-4z" fill="#000000"/>
<path d="M567 307h5v3h-2v1h-1v-1h-2z" fill="#000000"/>
<path d="M567 299h5v3h-2v1h-1v-1h-2z" fill="#000000"/>
<path d="M567 291h5v3h-2v1h-2v-1h-1z" fill="#000000"/>
<path d="M567 283h5v3h-2v1h-2v-1h-1z" fill="#000000"/>
</g>
<rect x="568" y="71" width="1" height="281" fill="#000000"/>
<rect x="776" y="71" width="1" height="281" fill="#000000"/>
<rect x="568" y="351" width="209" height="1" fill="#000000"/>
<rect x="568" y="345" width="1" height="7" fill="#000000"/>
<rect x="578" y="348" width="1" height="4" fill="#000000"/>
<rect x="589" y="348" width="1" height="4" fill="#000000"/>
<rect x="599" y="348" width="1" height="4" fill="#000000"/>
<rect x="610" y="345" width="1" height="7" fill="#000000"/>
<rect x="620" y="348" width="1" height="4" fill="#000000"/>
<rect x="630" y="348" width="1" height="4" fill="#000000"/>
<rect x="641" y="348" width="1" height="4" fill="#000000"/>
<rect x="651" y="345" width="1" height="7" fill="#000000"/>
<rect x="662" y="348" width="1" height="4" fill="#000000"/>
<rect x="672" y="348" width="1" height="4" fill="#000000"/>
<rect x="682" y="348" width="1" height="4" fill="#000000"/>
<rect x="693" y="345" width="1" height="7" fill="#000000"/>
<rect x="703" y="348" width="1" height="4" fill="#000000"/>
<rect x="714" y="348" width="1" height="4" fill="#000000"/>
<rect x="724" y="348" width="1" height="4" fill="#000000"/>
<rect x="734" y="345" width="1" height="7" fill="#000000"/>
<rect x="745" y="348" width="1" height="4" fill="#000000"/>
<rect x="755" y="348" width="1" height="4" fill="#000000"/>
<rect x="766" y="348" width="1" height="4" fill="#000000"/>
<rect x="776" y="345" width="1" height="7" fill="#000000"/>
<path transform="translate(568.50 369.50)" d="M-0.42 -8.83 L-1.68 -8.41 L-2.52 -7.15 L-2.94 -5.04 L-2.94 -3.78 L-2.52 -1.68 L-1.68 -0.42 L-0.42 0.00 L0.42 0.00 L1.68 -0.42 L2.52 -1.68 L2.94 -3.78 L2.94 -5.04 L2.52 -7.15 L1.68 -8.41 L0.42 -8.83 L-0.42 -8.83" stroke="#000000" stroke-width="1" fill="none"/>
<path transform="translate(610.10 369.50)" d="M-2.52 -6.72 L-2.52 -7.15 L-2.10 -7.99 L-1.68 -8.41 L-0.84 -8.83 L0.84 -8.83 L1.68 -8.41 L2.10 -7.99 L2.52 -7.15 L2.52 -6.30 L2.10 -5.46 L1.26 -4.20 L-2.94 0.00 L2.94 0.00" stroke="#000000" stroke-width="1" fill="none"/>
<path transform="translate(651.70 369.50)" d="M1.26 -8.83 L-2.94 -2.94 L3.36 -2.94M1.26 -8.83 L1.26 0.00" stroke="#000000" stroke-width="1" fill="none"/>
<path transform="translate(693.30 369.50)" d="M2.52 -7.57 L2.10 -8.41 L0.84 -8.83 L0.00 -8.83 L-1.26 -8.41 L-2.10 -7.15 L-2.52 -5.04 L-2.52 -2.94 L-2.10 -1.26 L-1.26 -0.42 L0.00 0.00 L0.42 0.00 L1.68 -0.42 L2.52 -1.26 L2.94 -2.52 L2.94 -2.94 L2.52 -4.20 L1.68 -5.04 L0.42 -5.46 L0.00 -5.46 L-1.26 -5.04 L-2.10 -4.20 L-2.52 -2.94" stroke="#000000" stroke-width="1" fill="none"/>
<path transform="translate(734.90 369.50)" d="M-0.84 -8.83 L-2.10 -8.41 L-2.52 -7.57 L-2.52 -6.72 L-2.10 -5.88 L-1.26 -5.46 L0.42 -5.04 L1.68 -4.62 L2.52 -3.78 L2.94 -2.94 L2.94 -1.68 L2.52 -0.84 L2.10 -0.42 L0.84 0.00 L-0.84 0.00 L-2.10 -0.42 L-2.52 -0.84 L-2.94 -1.68 L-2.94 -2.94 L-2.52 -3.78 L-1.68 -4.62 L-0.42 -5.04 L1.26 -5.46 L2.10 -5.88 L2.52 -6.72 L2.52 -7.57 L2.10 -8.41 L0.84 -8.83 L-0.84 -8.83" stroke="#000000" stroke-width="1" fill="none"/>
<path transform="translate(776.50 369.50)" d="M-5.88 -7.15 L-5.04 -7.57 L-3.78 -8.83 L-3.78 0.00M3.78 -8.83 L2.52 -8.41 L1.68 -7.15 L1.26 -5.04 L1.26 -3.78 L1.68 -1.68 L2.52 -0.42 L3.78 0.00 L4.62 0.00 L5.88 -0.42 L6.72 -1.68 L7.15 -3.78 L7.15 -5.04 L6.72 -7.15 L5.88 -8.41 L4.62 -8.83 L3.78 -8.83" stroke="#000000" stroke-width="1" fill="none"/>
<path transform="translate(672.50 385.50)" d="M-50.95 -8.83 L-50.95 0.00M-50.95 -8.83 L-47.16 -8.83 L-45.90 -8.41 L-45.48 -7.99 L-45.06 -7.15 L-45.06 -6.30 L-45.48 -5.46 L-45.90 -5.04 L-47.16 -4.62 L-50.95 -4.62M-48.00 -4.62 L-45.06 0.00M-42.54 -3.36 L-37.50 -3.36 L-37.50 -4.20 L-37.92 -5.04 L-38.34 -5.46 L-39.18 -5.88 L-40.44 -5.88 L-41.28 -5.46 L-42.12 -4.62 L-42.54 -3.36 L-42.54 -2.52 L-42.12 -1.26 L-41.28 -0.42 L-40.44 0.00 L-39.18 0.00 L-38.34 -0.42 L-37.50 -1.26M-30.35 -4.62 L-30.77 -5.46 L-32.03 -5.88 L-33.29 -5.88 L-34.55 -5.46 L-34.97 -4.62 L-34.55 -3.78 L-33.71 -3.36 L-31.61 -2.94 L-30.77 -2.52 L-30.35 -1.68 L-30.35 -1.26 L-30.77 -0.42 L-32.03 0.00 L-33.29 0.00 L-34.55 -0.42 L-34.97 -1.26M-27.83 -8.83 L-27.41 -8.41 L-26.99 -8.83 L-27.41 -9.25 L-27.83 -8.83M-27.41 -5.88 L-27.41 0.00M-19.42 -8.83 L-19.42 0.00M-19.42 -4.62 L-20.26 -5.46 L-21.10 -5.88 L-22.36 -5.88 L-23.21 -5.46 L-24.05 -4.62 L-24.47 -3.36 L-24.47 -2.52 L-24.05 -1.26 L-23.21 -0.42 L-22.36 0.00 L-21.10 0.00 L-20.26 -0.42 L-19.42 -1.26M-16.06 -5.88 L-16.06 -1.68 L-15.64 -0.42 L-14.80 0.00 L-13.54 0.00 L-12.70 -0.42 L-11.44 -1.68M-11.44 -5.88 L-11.44 0.00M-3.45 -5.88 L-3.45 0.00M-3.45 -4.62 L-4.29 -5.46 L-5.13 -5.88 L-6.39 -5.88 L-7.23 -5.46 L-8.07 -4.62 L-8.49 -3.36 L-8.49 -2.52 L-8.07 -1.26 L-7.23 -0.42 L-6.39 0.00 L-5.13 0.00 L-4.29 -0.42 L-3.45 -1.26M-0.09 -8.83 L-0.09 0.00M12.94 -10.51 L12.10 -9.67 L11.26 -8.41 L10.42 -6.72 L10.00 -4.62 L10.00 -2.94 L10.42 -0.84 L11.26 0.84 L12.10 2.10 L12.94 2.94M15.88 -5.88 L15.88 0.00M15.88 -4.20 L17.14 -5.46 L17.98 -5.88 L19.24 -5.88 L20.09 -5.46 L20.51 -4.20 L20.51 0.00M20.51 -4.20 L21.77 -5.46 L22.61 -5.88 L23.87 -5.88 L24.71 -5.46 L25.13 -4.20 L25.13 0.00M32.69 -4.62 L32.27 -5.46 L31.01 -5.88 L29.75 -5.88 L28.49 -5.46 L28.07 -4.62 L28.49 -3.78 L29.33 -3.36 L31.43 -2.94 L32.27 -2.52 L32.69 -1.68 L32.69 -1.26 L32.27 -0.42 L31.01 0.00 L29.75 0.00 L28.49 -0.42 L28.07 -1.26M35.00 -8.78 L39.69 -8.78M42.29 -10.86 L42.82 -11.12 L43.60 -11.90 L43.60 -6.43M48.00 -10.51 L48.84 -9.67 L49.68 -8.41 L50.52 -6.72 L50.95 -4.62 L50.95 -2.94 L50.52 -0.84 L49.68 0.84 L48.84 2.10 L48.00 2.94" stroke="#000000" stroke-width="1" fill="none"/>
<rect x="568" y="71" width="209" height="1" fill="#ff0000"/>
<rect x="568" y="71" width="1" height="7" fill="#ff0000"/>
<rect x="578" y="71" width="1" height="4" fill="#ff0000"/>
<rect x="589" y="71" width="1" height="4" fill="#ff0000"/>
<rect x="599" y="71" width="1" height="4" fill="#ff0000"/>
<rect x="610" y="71" width="1" height="7" fill="#ff0000"/>
<rect x="620" y="71" width="1" height="4" fill="#ff0000"/>
<rect x="630" y="71" width="1" height="4" fill="#ff0000"/>
<rect x="641" y="71" width="1" height="4" fill="#ff0000"/>
<rect x="651" y="71" width="1" height="7" fill="#ff0000"/>
<rect x="662" y="71" width="1" height="4" fill="#ff0000"/>
<rect x="672" y="71" width="1" height="4" fill="#ff0000"/>
<rect x="682" y="71" width="1" height="4" fill="#ff0000"/>
<rect x="693" y="71" width="1" height="7" fill="#ff0000"/>
<rect x="703" y="71" width="1" height="4" fill="#ff0000"/>
<rect x="714" y="71" width="1" height="4" fill="#ff0000"/>
<rect x="724" y="71" width="1" height="4" fill="#ff0000"/>
<rect x="734" y="71" width="1" height="7" fill="#ff0000"/>
<rect x="745" y="71" width="1" height="4" fill="#ff0000"/>
<rect x="755" y="71" width="1" height="4" fill="#ff0000"/>
<rect x="766" y="71" width="1" height="4" fill="#ff0000"/>
<rect x="776" y="71" width="1" height="7" fill="#ff0000"/>
<path transform="translate(568.50 65.50)" d="M-6.72 -8.83 L-7.99 -8.41 L-8.83 -7.15 L-9.25 -5.04 L-9.25 -3.78 L-8.83 -1.68 L-7.99 -0.42 L-6.72 0.00 L-5.88 0.00 L-4.62 -0.42 L-3.78 -1.68 L-3.36 -3.78 L-3.36 -5.04 L-3.78 -7.15 L-4.62 -8.41 L-5.88 -8.83 L-6.72 -8.83M0.00 -0.84 L-0.42 -0.42 L0.00 0.00 L0.42 -0.42 L0.00 -0.84M5.88 -8.83 L4.62 -8.41 L3.78 -7.15 L3.36 -5.04 L3.36 -3.78 L3.78 -1.68 L4.62 -0.42 L5.88 0.00 L6.72 0.00 L7.99 -0.42 L8.83 -1.68 L9.25 -3.78 L9.25 -5.04 L8.83 -7.15 L7.99 -8.41 L6.72 -8.83 L5.88 -8.83" stroke="#ff0000" stroke-width="1" fill="none"/>
<path transform="translate(610.10 65.50)" d="M-6.72 -8.83 L-7.99 -8.41 L-8.83 -7.15 L-9.25 -5.04 L-9.25 -3.78 L-8.83 -1.68 L-7.99 -0.42 L-6.72 0.00 L-5.88 0.00 L-4.62 -0.42 L-3.78 -1.68 L-3.36 -3.78 L-3.36 -5.04 L-3.78 -7.15 L-4.62 -8.41 L-5.88 -8.83 L-6.72 -8.83M0.00 -0.84 L-0.42 -0.42 L0.00 0.00 L0.42 -0.42 L0.00 -0.84M3.78 -6.72 L3.78 -7.15 L4.20 -7.99 L4.62 -8.41 L5.46 -8.83 L7.15 -8.83 L7.99 -8.41 L8.41 -7.99 L8.83 -7.15 L8.83 -6.30 L8.41 -5.46 L7.57 -4.20 L3.36 0.00 L9.25 0.00" stroke="#ff0000" stroke-width="1" fill="none"/>
<path transform="translate(651.70 65.50)" d="M-6.72 -8.83 L-7.99 -8.41 L-8.83 -7.15 L-9.25 -5.04 L-9.25 -3.78 L-8.83 -1.68 L-7.99 -0.42 L-6.72 0.00 L-5.88 0.00 L-4.62 -0.42 L-3.78 -1.68 L-3.36 -3.78 L-3.36 -5.04 L-3.78 -7.15 L-4.62 -8.41 L-5.88 -8.83 L-6.72 -8.83M0.00 -0.84 L-0.42 -0.42 L0.00 0.00 L0.42 -0.42 L0.00 -0.84M7.57 -8.83 L3.36 -2.94 L9.67 -2.94M7.57 -8.83 L7.57 0.00" stroke="#ff0000" stroke-width="1" fill="none"/>
<path transform="translate(693.30 65.50)" d="M-6.72 -8.83 L-7.99 -8.41 L-8.83 -7.15 L-9.25 -5.04 L-9.25 -3.78 L-8.83 -1.68 L-7.99 -0.42 L-6.72 0.00 L-5.88 0.00 L-4.62 -0.42 L-3.78 -1.68 L-3.36 -3.78 L-3.36 -5.04 L-3.78 -7.15 L-4.62 -8.41 L-5.88 -8.83 L-6.72 -8.83M0.00 -0.84 L-0.42 -0.42 L0.00 0.00 L0.42 -0.42 L0.00 -0.84M8.83 -7.57 L8.41 -8.41 L7.15 -8.83 L6.30 -8.83 L5.04 -8.41 L4.20 -7.15 L3.78 -5.04 L3.78 -2.94 L4.20 -1.26 L5.04 -0.42 L6.30 0.00 L6.72 0.00 L7.99 -0.42 L8.83 -1.26 L9.25 -2.52 L9.25 -2.94 L8.83 -4.20 L7.99 -5.04 L6.72 -5.46 L6.30 -5.46 L5.04 -5.04 L4.20 -4.20 L3.78 -2.94" stroke="#ff0000" stroke-width="1" fill="none"/>
<path transform="translate(734.90 65.50)" d="M-6.72 -8.83 L-7.99 -8.41 L-8.83 -7.15 L-9.25 -5.04 L-9.25 -3.78 L-8.83 -1.68 L-7.99 -0.42 L-6.72 0.00 L-5.88 0.00 L-4.62 -0.42 L-3.78 -1.68 L-3.36 -3.78 L-3.36 -5.04 L-3.78 -7.15 L-4.62 -8.41 L-5.88 -8.83 L-6.72 -8.83M0.00 -0.84 L-0.42 -0.42 L0.00 0.00 L0.42 -0.42 L0.00 -0.84M5.46 -8.83 L4.20 -8.41 L3.78 -7.57 L3.78 -6.72 L4.20 -5.88 L5.04 -5.46 L6.72 -5.04 L7.99 -4.62 L8.83 -3.78 L9.25 -2.94 L9.25 -1.68 L8.83 -0.84 L8.41 -0.42 L7.15 0.00 L5.46 0.00 L4.20 -0.42 L3.78 -0.84 L3.36 -1.68 L3.36 -2.94 L3.78 -3.78 L4.62 -4.62 L5.88 -5.04 L7.57 -5.46 L8.41 -5.88 L8.83 -6.72 L8.83 -7.57 L8.41 -8.41 L7.15 -8.83 L5.46 -8.83" stroke="#ff0000" stroke-width="1" fill="none"/>
<path transform="translate(776.50 65.50)" d="M-7.99 -7.15 L-7.15 -7.57 L-5.88 -8.83 L-5.88 0.00M0.00 -0.84 L-0.42 -0.42 L0.00 0.00 L0.42 -0.42 L0.00 -0.84M5.88 -8.83 L4.62 -8.41 L3.78 -7.15 L3.36 -5.04 L3.36 -3.78 L3.78 -1.68 L4.62 -0.42 L5.88 0.00 L6.72 0.00 L7.99 -0.42 L8.83 -1.68 L9.25 -3.78 L9.25 -5.04 L8.83 -7.15 L7.99 -8.41 L6.72 -8.83 L5.88 -8.83" stroke="#ff0000" stroke-width="1" fill="none"/>
<path transform="translate(671.60 53.50)" d="M-27.95 -6.72 L-28.37 -7.57 L-29.21 -8.41 L-30.05 -8.83 L-31.73 -8.83 L-32.57 -8.41 L-33.41 -7.57 L-33.83 -6.72 L-34.25 -5.46 L-34.25 -3.36 L-33.83 -2.10 L-33.41 -1.26 L-32.57 -0.42 L-31.73 0.00 L-30.05 0.00 L-29.21 -0.42 L-28.37 -1.26 L-27.95 -2.10M-23.33 -5.88 L-24.17 -5.46 L-25.01 -4.62 L-25.43 -3.36 L-25.43 -2.52 L-25.01 -1.26 L-24.17 -0.42 L-23.33 0.00 L-22.07 0.00 L-21.23 -0.42 L-20.38 -1.26 L-19.96 -2.52 L-19.96 -3.36 L-20.38 -4.62 L-21.23 -5.46 L-22.07 -5.88 L-23.33 -5.88M-17.02 -5.88 L-17.02 0.00M-17.02 -3.36 L-16.60 -4.62 L-15.76 -5.46 L-14.92 -5.88 L-13.66 -5.88M-11.56 -5.88 L-11.56 0.00M-11.56 -3.36 L-11.14 -4.62 L-10.30 -5.46 L-9.46 -5.88 L-8.20 -5.88M-6.51 -3.36 L-1.47 -3.36 L-1.47 -4.20 L-1.89 -5.04 L-2.31 -5.46 L-3.15 -5.88 L-4.41 -5.88 L-5.25 -5.46 L-6.09 -4.62 L-6.51 -3.36 L-6.51 -2.52 L-6.09 -1.26 L-5.25 -0.42 L-4.41 0.00 L-3.15 0.00 L-2.31 -0.42 L-1.47 -1.26M1.47 -8.83 L1.47 0.00M9.46 -5.88 L9.46 0.00M9.46 -4.62 L8.62 -5.46 L7.78 -5.88 L6.51 -5.88 L5.67 -5.46 L4.83 -4.62 L4.41 -3.36 L4.41 -2.52 L4.83 -1.26 L5.67 -0.42 L6.51 0.00 L7.78 0.00 L8.62 -0.42 L9.46 -1.26M13.24 -8.83 L13.24 -1.68 L13.66 -0.42 L14.50 0.00 L15.34 0.00M11.98 -5.88 L14.92 -5.88M17.44 -8.83 L17.86 -8.41 L18.28 -8.83 L17.86 -9.25 L17.44 -8.83M17.86 -5.88 L17.86 0.00M22.91 -5.88 L22.07 -5.46 L21.23 -4.62 L20.80 -3.36 L20.80 -2.52 L21.23 -1.26 L22.07 -0.42 L22.91 0.00 L24.17 0.00 L25.01 -0.42 L25.85 -1.26 L26.27 -2.52 L26.27 -3.36 L25.85 -4.62 L25.01 -5.46 L24.17 -5.88 L22.91 -5.88M29.21 -5.88 L29.21 0.00M29.21 -4.20 L30.47 -5.46 L31.31 -5.88 L32.57 -5.88 L33.41 -5.46 L33.83 -4.20 L33.83 0.00" stroke="#ff0000" stroke-width="1" fill="none"/>
<path transform="translate(585.70 395.50)" d="M1.18 -6.18 L1.18 0.00M1.18 -6.18 L3.83 -6.18 L4.71 -5.89 L5.01 -5.60 L5.30 -5.01 L5.30 -4.12 L5.01 -3.53 L4.71 -3.24 L3.83 -2.94 L1.18 -2.94M7.36 -6.18 L7.36 0.00M10.90 -4.12 L10.31 -3.83 L9.72 -3.24 L9.42 -2.36 L9.42 -1.77 L9.72 -0.88 L10.31 -0.29 L10.90 0.00 L11.78 0.00 L12.37 -0.29 L12.96 -0.88 L13.25 -1.77 L13.25 -2.36 L12.96 -3.24 L12.37 -3.83 L11.78 -4.12 L10.90 -4.12M15.61 -6.18 L15.61 -1.18 L15.90 -0.29 L16.49 0.00 L17.08 0.00M14.72 -4.12 L16.79 -4.12M26.80 -3.24 L26.21 -3.83 L25.62 -4.12 L24.74 -4.12 L24.15 -3.83 L23.56 -3.24 L23.27 -2.36 L23.27 -1.77 L23.56 -0.88 L24.15 -0.29 L24.74 0.00 L25.62 0.00 L26.21 -0.29 L26.80 -0.88M28.86 -4.12 L28.86 0.00M28.86 -2.36 L29.16 -3.24 L29.74 -3.83 L30.33 -4.12 L31.22 -4.12M32.39 -2.36 L35.93 -2.36 L35.93 -2.94 L35.63 -3.53 L35.34 -3.83 L34.75 -4.12 L33.87 -4.12 L33.28 -3.83 L32.69 -3.24 L32.39 -2.36 L32.39 -1.77 L32.69 -0.88 L33.28 -0.29 L33.87 0.00 L34.75 0.00 L35.34 -0.29 L35.93 -0.88M41.23 -4.12 L41.23 0.00M41.23 -3.24 L40.64 -3.83 L40.05 -4.12 L39.17 -4.12 L38.58 -3.83 L37.99 -3.24 L37.70 -2.36 L37.70 -1.77 L37.99 -0.88 L38.58 -0.29 L39.17 0.00 L40.05 0.00 L40.64 -0.29 L41.23 -0.88M43.88 -6.18 L43.88 -1.18 L44.18 -0.29 L44.76 0.00 L45.35 0.00M43.00 -4.12 L45.06 -4.12M46.83 -2.36 L50.36 -2.36 L50.36 -2.94 L50.06 -3.53 L49.77 -3.83 L49.18 -4.12 L48.30 -4.12 L47.71 -3.83 L47.12 -3.24 L46.83 -2.36 L46.83 -1.77 L47.12 -0.88 L47.71 -0.29 L48.30 0.00 L49.18 0.00 L49.77 -0.29 L50.36 -0.88M55.66 -6.18 L55.66 0.00M55.66 -3.24 L55.07 -3.83 L54.48 -4.12 L53.60 -4.12 L53.01 -3.83 L52.42 -3.24 L52.13 -2.36 L52.13 -1.77 L52.42 -0.88 L53.01 -0.29 L53.60 0.00 L54.48 0.00 L55.07 -0.29 L55.66 -0.88M63.91 -4.12 L63.32 -3.83 L62.73 -3.24 L62.43 -2.36 L62.43 -1.77 L62.73 -0.88 L63.32 -0.29 L63.91 0.00 L64.79 0.00 L65.38 -0.29 L65.97 -0.88 L66.26 -1.77 L66.26 -2.36 L65.97 -3.24 L65.38 -3.83 L64.79 -4.12 L63.91 -4.12M68.32 -4.12 L68.32 0.00M68.32 -2.94 L69.21 -3.83 L69.80 -4.12 L70.68 -4.12 L71.27 -3.83 L71.56 -2.94 L71.56 0.00M78.63 -6.18 L78.63 0.00M78.63 -6.18 L80.99 0.00M83.34 -6.18 L80.99 0.00M83.34 -6.18 L83.34 0.00M86.88 -4.12 L86.29 -3.83 L85.70 -3.24 L85.41 -2.36 L85.41 -1.77 L85.70 -0.88 L86.29 -0.29 L86.88 0.00 L87.76 0.00 L88.35 -0.29 L88.94 -0.88 L89.23 -1.77 L89.23 -2.36 L88.94 -3.24 L88.35 -3.83 L87.76 -4.12 L86.88 -4.12M91.30 -4.12 L91.30 0.00M91.30 -2.94 L92.18 -3.83 L92.77 -4.12 L93.65 -4.12 L94.24 -3.83 L94.53 -2.94 L94.53 0.00M103.96 -6.18 L103.96 -1.47 L103.66 -0.59 L103.37 -0.29 L102.78 0.00 L102.19 0.00 L101.60 -0.29 L101.31 -0.59 L101.01 -1.47 L101.01 -2.06M106.31 -4.12 L106.31 -1.18 L106.61 -0.29 L107.20 0.00 L108.08 0.00 L108.67 -0.29 L109.55 -1.18M109.55 -4.12 L109.55 0.00M111.91 -4.12 L111.91 0.00M111.91 -2.94 L112.79 -3.83 L113.38 -4.12 L114.27 -4.12 L114.86 -3.83 L115.15 -2.94 L115.15 0.00M122.81 -5.01 L123.40 -5.30 L124.28 -6.18 L124.28 0.00M128.11 -4.71 L128.11 -5.01 L128.40 -5.60 L128.70 -5.89 L129.29 -6.18 L130.46 -6.18 L131.05 -5.89 L131.35 -5.60 L131.64 -5.01 L131.64 -4.42 L131.35 -3.83 L130.76 -2.94 L127.81 0.00 L131.94 0.00M138.71 -4.71 L138.71 -5.01 L139.00 -5.60 L139.30 -5.89 L139.89 -6.18 L141.07 -6.18 L141.65 -5.89 L141.95 -5.60 L142.24 -5.01 L142.24 -4.42 L141.95 -3.83 L141.36 -2.94 L138.41 0.00 L142.54 0.00M144.89 -6.18 L148.13 -6.18 L146.37 -3.83 L147.25 -3.83 L147.84 -3.53 L148.13 -3.24 L148.43 -2.36 L148.43 -1.77 L148.13 -0.88 L147.54 -0.29 L146.66 0.00 L145.78 0.00 L144.89 -0.29 L144.60 -0.59 L144.30 -1.18M150.78 -4.12 L150.49 -3.83 L150.78 -3.53 L151.08 -3.83 L150.78 -4.12M150.78 -0.59 L150.49 -0.29 L150.78 0.00 L151.08 -0.29 L150.78 -0.59M156.67 -6.18 L153.73 -6.18 L153.43 -3.53 L153.73 -3.83 L154.61 -4.12 L155.50 -4.12 L156.38 -3.83 L156.97 -3.24 L157.26 -2.36 L157.26 -1.77 L156.97 -0.88 L156.38 -0.29 L155.50 0.00 L154.61 0.00 L153.73 -0.29 L153.43 -0.59 L153.14 -1.18M160.80 -6.18 L159.91 -5.89 L159.32 -5.01 L159.03 -3.53 L159.03 -2.65 L159.32 -1.18 L159.91 -0.29 L160.80 0.00 L161.39 0.00 L162.27 -0.29 L162.86 -1.18 L163.15 -2.65 L163.15 -3.53 L162.86 -5.01 L162.27 -5.89 L161.39 -6.18 L160.80 -6.18M165.51 -4.12 L165.21 -3.83 L165.51 -3.53 L165.80 -3.83 L165.51 -4.12M165.51 -0.59 L165.21 -0.29 L165.51 0.00 L165.80 -0.29 L165.51 -0.59M168.45 -6.18 L171.69 -6.18 L169.93 -3.83 L170.81 -3.83 L171.40 -3.53 L171.69 -3.24 L171.99 -2.36 L171.99 -1.77 L171.69 -0.88 L171.10 -0.29 L170.22 0.00 L169.34 0.00 L168.45 -0.29 L168.16 -0.59 L167.86 -1.18M177.29 -6.18 L174.34 -6.18 L174.05 -3.53 L174.34 -3.83 L175.23 -4.12 L176.11 -4.12 L176.99 -3.83 L177.58 -3.24 L177.88 -2.36 L177.88 -1.77 L177.58 -0.88 L176.99 -0.29 L176.11 0.00 L175.23 0.00 L174.34 -0.29 L174.05 -0.59 L173.75 -1.18M184.65 -4.71 L184.65 -5.01 L184.95 -5.60 L185.24 -5.89 L185.83 -6.18 L187.01 -6.18 L187.60 -5.89 L187.89 -5.60 L188.19 -5.01 L188.19 -4.42 L187.89 -3.83 L187.30 -2.94 L184.36 0.00 L188.48 0.00M192.01 -6.18 L191.13 -5.89 L190.54 -5.01 L190.25 -3.53 L190.25 -2.65 L190.54 -1.18 L191.13 -0.29 L192.01 0.00 L192.60 0.00 L193.49 -0.29 L194.08 -1.18 L194.37 -2.65 L194.37 -3.53 L194.08 -5.01 L193.49 -5.89 L192.60 -6.18 L192.01 -6.18M197.02 -5.01 L197.61 -5.30 L198.49 -6.18 L198.49 0.00M206.15 -6.18 L203.20 0.00M202.03 -6.18 L206.15 -6.18" stroke="#000000" stroke-width="1" fill="none"/>
</svg>
</body></html>
